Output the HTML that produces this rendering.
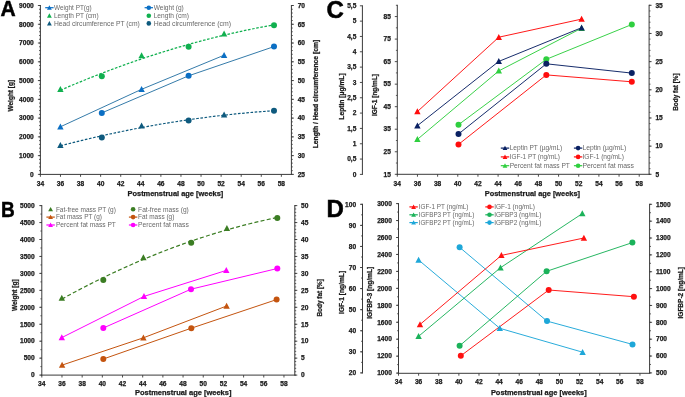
<!DOCTYPE html>
<html><head><meta charset="utf-8"><style>
html,body{margin:0;padding:0;background:#fff;width:685px;height:397px;overflow:hidden}
svg{display:block;will-change:transform}
text{font-family:"Liberation Sans", sans-serif}
</style></head><body>
<svg width="685" height="397" viewBox="0 0 685 397">
<rect width="685" height="397" fill="#fff"/>
<text transform="translate(8.08,8.49) scale(0.923,0.963)" x="0" y="8.16" text-anchor="middle" font-size="22.8" font-weight="bold" fill="#000" stroke="#000" stroke-width="0.5">A</text>
<line x1="39.9" y1="174.4" x2="291.9" y2="174.4" stroke="#3a3a3a" stroke-width="1"/>
<line x1="40.4" y1="174.4" x2="40.4" y2="176.8" stroke="#3a3a3a" stroke-width="0.9"/>
<text x="40.4" y="185.56" text-anchor="middle" font-size="6.3" font-weight="bold" fill="#1a1a1a" textLength="7.36" lengthAdjust="spacingAndGlyphs" stroke="#1a1a1a" stroke-width="0.25">34</text>
<line x1="60.48" y1="174.4" x2="60.48" y2="176.8" stroke="#3a3a3a" stroke-width="0.9"/>
<text x="60.48" y="185.56" text-anchor="middle" font-size="6.3" font-weight="bold" fill="#1a1a1a" textLength="7.36" lengthAdjust="spacingAndGlyphs" stroke="#1a1a1a" stroke-width="0.25">36</text>
<line x1="80.56" y1="174.4" x2="80.56" y2="176.8" stroke="#3a3a3a" stroke-width="0.9"/>
<text x="80.56" y="185.56" text-anchor="middle" font-size="6.3" font-weight="bold" fill="#1a1a1a" textLength="7.36" lengthAdjust="spacingAndGlyphs" stroke="#1a1a1a" stroke-width="0.25">38</text>
<line x1="100.64" y1="174.4" x2="100.64" y2="176.8" stroke="#3a3a3a" stroke-width="0.9"/>
<text x="100.64" y="185.56" text-anchor="middle" font-size="6.3" font-weight="bold" fill="#1a1a1a" textLength="7.36" lengthAdjust="spacingAndGlyphs" stroke="#1a1a1a" stroke-width="0.25">40</text>
<line x1="120.72" y1="174.4" x2="120.72" y2="176.8" stroke="#3a3a3a" stroke-width="0.9"/>
<text x="120.72" y="185.56" text-anchor="middle" font-size="6.3" font-weight="bold" fill="#1a1a1a" textLength="7.36" lengthAdjust="spacingAndGlyphs" stroke="#1a1a1a" stroke-width="0.25">42</text>
<line x1="140.8" y1="174.4" x2="140.8" y2="176.8" stroke="#3a3a3a" stroke-width="0.9"/>
<text x="140.8" y="185.56" text-anchor="middle" font-size="6.3" font-weight="bold" fill="#1a1a1a" textLength="7.36" lengthAdjust="spacingAndGlyphs" stroke="#1a1a1a" stroke-width="0.25">44</text>
<line x1="160.88" y1="174.4" x2="160.88" y2="176.8" stroke="#3a3a3a" stroke-width="0.9"/>
<text x="160.88" y="185.56" text-anchor="middle" font-size="6.3" font-weight="bold" fill="#1a1a1a" textLength="7.36" lengthAdjust="spacingAndGlyphs" stroke="#1a1a1a" stroke-width="0.25">46</text>
<line x1="180.96" y1="174.4" x2="180.96" y2="176.8" stroke="#3a3a3a" stroke-width="0.9"/>
<text x="180.96" y="185.56" text-anchor="middle" font-size="6.3" font-weight="bold" fill="#1a1a1a" textLength="7.36" lengthAdjust="spacingAndGlyphs" stroke="#1a1a1a" stroke-width="0.25">48</text>
<line x1="201.04" y1="174.4" x2="201.04" y2="176.8" stroke="#3a3a3a" stroke-width="0.9"/>
<text x="201.04" y="185.56" text-anchor="middle" font-size="6.3" font-weight="bold" fill="#1a1a1a" textLength="7.36" lengthAdjust="spacingAndGlyphs" stroke="#1a1a1a" stroke-width="0.25">50</text>
<line x1="221.12" y1="174.4" x2="221.12" y2="176.8" stroke="#3a3a3a" stroke-width="0.9"/>
<text x="221.12" y="185.56" text-anchor="middle" font-size="6.3" font-weight="bold" fill="#1a1a1a" textLength="7.36" lengthAdjust="spacingAndGlyphs" stroke="#1a1a1a" stroke-width="0.25">52</text>
<line x1="241.2" y1="174.4" x2="241.2" y2="176.8" stroke="#3a3a3a" stroke-width="0.9"/>
<text x="241.2" y="185.56" text-anchor="middle" font-size="6.3" font-weight="bold" fill="#1a1a1a" textLength="7.36" lengthAdjust="spacingAndGlyphs" stroke="#1a1a1a" stroke-width="0.25">54</text>
<line x1="261.28" y1="174.4" x2="261.28" y2="176.8" stroke="#3a3a3a" stroke-width="0.9"/>
<text x="261.28" y="185.56" text-anchor="middle" font-size="6.3" font-weight="bold" fill="#1a1a1a" textLength="7.36" lengthAdjust="spacingAndGlyphs" stroke="#1a1a1a" stroke-width="0.25">56</text>
<line x1="281.36" y1="174.4" x2="281.36" y2="176.8" stroke="#3a3a3a" stroke-width="0.9"/>
<text x="281.36" y="185.56" text-anchor="middle" font-size="6.3" font-weight="bold" fill="#1a1a1a" textLength="7.36" lengthAdjust="spacingAndGlyphs" stroke="#1a1a1a" stroke-width="0.25">58</text>
<line x1="40.4" y1="5" x2="40.4" y2="174.9" stroke="#3a3a3a" stroke-width="1"/>
<line x1="40.4" y1="174.4" x2="39" y2="174.4" stroke="#3a3a3a" stroke-width="0.8"/>
<line x1="40.4" y1="170.65" x2="39" y2="170.65" stroke="#3a3a3a" stroke-width="0.8"/>
<line x1="40.4" y1="166.89" x2="39" y2="166.89" stroke="#3a3a3a" stroke-width="0.8"/>
<line x1="40.4" y1="163.14" x2="39" y2="163.14" stroke="#3a3a3a" stroke-width="0.8"/>
<line x1="40.4" y1="159.39" x2="39" y2="159.39" stroke="#3a3a3a" stroke-width="0.8"/>
<line x1="40.4" y1="155.63" x2="39" y2="155.63" stroke="#3a3a3a" stroke-width="0.8"/>
<line x1="40.4" y1="151.88" x2="39" y2="151.88" stroke="#3a3a3a" stroke-width="0.8"/>
<line x1="40.4" y1="148.13" x2="39" y2="148.13" stroke="#3a3a3a" stroke-width="0.8"/>
<line x1="40.4" y1="144.37" x2="39" y2="144.37" stroke="#3a3a3a" stroke-width="0.8"/>
<line x1="40.4" y1="140.62" x2="39" y2="140.62" stroke="#3a3a3a" stroke-width="0.8"/>
<line x1="40.4" y1="136.87" x2="39" y2="136.87" stroke="#3a3a3a" stroke-width="0.8"/>
<line x1="40.4" y1="133.11" x2="39" y2="133.11" stroke="#3a3a3a" stroke-width="0.8"/>
<line x1="40.4" y1="129.36" x2="39" y2="129.36" stroke="#3a3a3a" stroke-width="0.8"/>
<line x1="40.4" y1="125.61" x2="39" y2="125.61" stroke="#3a3a3a" stroke-width="0.8"/>
<line x1="40.4" y1="121.85" x2="39" y2="121.85" stroke="#3a3a3a" stroke-width="0.8"/>
<line x1="40.4" y1="118.1" x2="39" y2="118.1" stroke="#3a3a3a" stroke-width="0.8"/>
<line x1="40.4" y1="114.35" x2="39" y2="114.35" stroke="#3a3a3a" stroke-width="0.8"/>
<line x1="40.4" y1="110.59" x2="39" y2="110.59" stroke="#3a3a3a" stroke-width="0.8"/>
<line x1="40.4" y1="106.84" x2="39" y2="106.84" stroke="#3a3a3a" stroke-width="0.8"/>
<line x1="40.4" y1="103.09" x2="39" y2="103.09" stroke="#3a3a3a" stroke-width="0.8"/>
<line x1="40.4" y1="99.33" x2="39" y2="99.33" stroke="#3a3a3a" stroke-width="0.8"/>
<line x1="40.4" y1="95.58" x2="39" y2="95.58" stroke="#3a3a3a" stroke-width="0.8"/>
<line x1="40.4" y1="91.83" x2="39" y2="91.83" stroke="#3a3a3a" stroke-width="0.8"/>
<line x1="40.4" y1="88.07" x2="39" y2="88.07" stroke="#3a3a3a" stroke-width="0.8"/>
<line x1="40.4" y1="84.32" x2="39" y2="84.32" stroke="#3a3a3a" stroke-width="0.8"/>
<line x1="40.4" y1="80.57" x2="39" y2="80.57" stroke="#3a3a3a" stroke-width="0.8"/>
<line x1="40.4" y1="76.81" x2="39" y2="76.81" stroke="#3a3a3a" stroke-width="0.8"/>
<line x1="40.4" y1="73.06" x2="39" y2="73.06" stroke="#3a3a3a" stroke-width="0.8"/>
<line x1="40.4" y1="69.31" x2="39" y2="69.31" stroke="#3a3a3a" stroke-width="0.8"/>
<line x1="40.4" y1="65.55" x2="39" y2="65.55" stroke="#3a3a3a" stroke-width="0.8"/>
<line x1="40.4" y1="61.8" x2="39" y2="61.8" stroke="#3a3a3a" stroke-width="0.8"/>
<line x1="40.4" y1="58.05" x2="39" y2="58.05" stroke="#3a3a3a" stroke-width="0.8"/>
<line x1="40.4" y1="54.29" x2="39" y2="54.29" stroke="#3a3a3a" stroke-width="0.8"/>
<line x1="40.4" y1="50.54" x2="39" y2="50.54" stroke="#3a3a3a" stroke-width="0.8"/>
<line x1="40.4" y1="46.79" x2="39" y2="46.79" stroke="#3a3a3a" stroke-width="0.8"/>
<line x1="40.4" y1="43.03" x2="39" y2="43.03" stroke="#3a3a3a" stroke-width="0.8"/>
<line x1="40.4" y1="39.28" x2="39" y2="39.28" stroke="#3a3a3a" stroke-width="0.8"/>
<line x1="40.4" y1="35.53" x2="39" y2="35.53" stroke="#3a3a3a" stroke-width="0.8"/>
<line x1="40.4" y1="31.77" x2="39" y2="31.77" stroke="#3a3a3a" stroke-width="0.8"/>
<line x1="40.4" y1="28.02" x2="39" y2="28.02" stroke="#3a3a3a" stroke-width="0.8"/>
<line x1="40.4" y1="24.27" x2="39" y2="24.27" stroke="#3a3a3a" stroke-width="0.8"/>
<line x1="40.4" y1="20.51" x2="39" y2="20.51" stroke="#3a3a3a" stroke-width="0.8"/>
<line x1="40.4" y1="16.76" x2="39" y2="16.76" stroke="#3a3a3a" stroke-width="0.8"/>
<line x1="40.4" y1="13.01" x2="39" y2="13.01" stroke="#3a3a3a" stroke-width="0.8"/>
<line x1="40.4" y1="9.25" x2="39" y2="9.25" stroke="#3a3a3a" stroke-width="0.8"/>
<line x1="40.4" y1="5.5" x2="39" y2="5.5" stroke="#3a3a3a" stroke-width="0.8"/>
<line x1="40.4" y1="174.4" x2="37.9" y2="174.4" stroke="#3a3a3a" stroke-width="0.9"/>
<line x1="40.4" y1="155.63" x2="37.9" y2="155.63" stroke="#3a3a3a" stroke-width="0.9"/>
<line x1="40.4" y1="136.87" x2="37.9" y2="136.87" stroke="#3a3a3a" stroke-width="0.9"/>
<line x1="40.4" y1="118.1" x2="37.9" y2="118.1" stroke="#3a3a3a" stroke-width="0.9"/>
<line x1="40.4" y1="99.33" x2="37.9" y2="99.33" stroke="#3a3a3a" stroke-width="0.9"/>
<line x1="40.4" y1="80.57" x2="37.9" y2="80.57" stroke="#3a3a3a" stroke-width="0.9"/>
<line x1="40.4" y1="61.8" x2="37.9" y2="61.8" stroke="#3a3a3a" stroke-width="0.9"/>
<line x1="40.4" y1="43.03" x2="37.9" y2="43.03" stroke="#3a3a3a" stroke-width="0.9"/>
<line x1="40.4" y1="24.27" x2="37.9" y2="24.27" stroke="#3a3a3a" stroke-width="0.9"/>
<line x1="40.4" y1="5.5" x2="37.9" y2="5.5" stroke="#3a3a3a" stroke-width="0.9"/>
<text x="33.8" y="176.66" text-anchor="end" font-size="6.3" font-weight="bold" fill="#1a1a1a" textLength="3.68" lengthAdjust="spacingAndGlyphs" stroke="#1a1a1a" stroke-width="0.25">0</text>
<text x="33.8" y="157.89" text-anchor="end" font-size="6.3" font-weight="bold" fill="#1a1a1a" textLength="14.71" lengthAdjust="spacingAndGlyphs" stroke="#1a1a1a" stroke-width="0.25">1000</text>
<text x="33.8" y="139.12" text-anchor="end" font-size="6.3" font-weight="bold" fill="#1a1a1a" textLength="14.71" lengthAdjust="spacingAndGlyphs" stroke="#1a1a1a" stroke-width="0.25">2000</text>
<text x="33.8" y="120.36" text-anchor="end" font-size="6.3" font-weight="bold" fill="#1a1a1a" textLength="14.71" lengthAdjust="spacingAndGlyphs" stroke="#1a1a1a" stroke-width="0.25">3000</text>
<text x="33.8" y="101.59" text-anchor="end" font-size="6.3" font-weight="bold" fill="#1a1a1a" textLength="14.71" lengthAdjust="spacingAndGlyphs" stroke="#1a1a1a" stroke-width="0.25">4000</text>
<text x="33.8" y="82.82" text-anchor="end" font-size="6.3" font-weight="bold" fill="#1a1a1a" textLength="14.71" lengthAdjust="spacingAndGlyphs" stroke="#1a1a1a" stroke-width="0.25">5000</text>
<text x="33.8" y="64.06" text-anchor="end" font-size="6.3" font-weight="bold" fill="#1a1a1a" textLength="14.71" lengthAdjust="spacingAndGlyphs" stroke="#1a1a1a" stroke-width="0.25">6000</text>
<text x="33.8" y="45.29" text-anchor="end" font-size="6.3" font-weight="bold" fill="#1a1a1a" textLength="14.71" lengthAdjust="spacingAndGlyphs" stroke="#1a1a1a" stroke-width="0.25">7000</text>
<text x="33.8" y="26.52" text-anchor="end" font-size="6.3" font-weight="bold" fill="#1a1a1a" textLength="14.71" lengthAdjust="spacingAndGlyphs" stroke="#1a1a1a" stroke-width="0.25">8000</text>
<text x="33.8" y="7.76" text-anchor="end" font-size="6.3" font-weight="bold" fill="#1a1a1a" textLength="14.71" lengthAdjust="spacingAndGlyphs" stroke="#1a1a1a" stroke-width="0.25">9000</text>
<line x1="291.4" y1="5" x2="291.4" y2="174.9" stroke="#3a3a3a" stroke-width="1"/>
<line x1="291.4" y1="174.4" x2="292.8" y2="174.4" stroke="#3a3a3a" stroke-width="0.8"/>
<line x1="291.4" y1="170.65" x2="292.8" y2="170.65" stroke="#3a3a3a" stroke-width="0.8"/>
<line x1="291.4" y1="166.89" x2="292.8" y2="166.89" stroke="#3a3a3a" stroke-width="0.8"/>
<line x1="291.4" y1="163.14" x2="292.8" y2="163.14" stroke="#3a3a3a" stroke-width="0.8"/>
<line x1="291.4" y1="159.39" x2="292.8" y2="159.39" stroke="#3a3a3a" stroke-width="0.8"/>
<line x1="291.4" y1="155.63" x2="292.8" y2="155.63" stroke="#3a3a3a" stroke-width="0.8"/>
<line x1="291.4" y1="151.88" x2="292.8" y2="151.88" stroke="#3a3a3a" stroke-width="0.8"/>
<line x1="291.4" y1="148.13" x2="292.8" y2="148.13" stroke="#3a3a3a" stroke-width="0.8"/>
<line x1="291.4" y1="144.37" x2="292.8" y2="144.37" stroke="#3a3a3a" stroke-width="0.8"/>
<line x1="291.4" y1="140.62" x2="292.8" y2="140.62" stroke="#3a3a3a" stroke-width="0.8"/>
<line x1="291.4" y1="136.87" x2="292.8" y2="136.87" stroke="#3a3a3a" stroke-width="0.8"/>
<line x1="291.4" y1="133.11" x2="292.8" y2="133.11" stroke="#3a3a3a" stroke-width="0.8"/>
<line x1="291.4" y1="129.36" x2="292.8" y2="129.36" stroke="#3a3a3a" stroke-width="0.8"/>
<line x1="291.4" y1="125.61" x2="292.8" y2="125.61" stroke="#3a3a3a" stroke-width="0.8"/>
<line x1="291.4" y1="121.85" x2="292.8" y2="121.85" stroke="#3a3a3a" stroke-width="0.8"/>
<line x1="291.4" y1="118.1" x2="292.8" y2="118.1" stroke="#3a3a3a" stroke-width="0.8"/>
<line x1="291.4" y1="114.35" x2="292.8" y2="114.35" stroke="#3a3a3a" stroke-width="0.8"/>
<line x1="291.4" y1="110.59" x2="292.8" y2="110.59" stroke="#3a3a3a" stroke-width="0.8"/>
<line x1="291.4" y1="106.84" x2="292.8" y2="106.84" stroke="#3a3a3a" stroke-width="0.8"/>
<line x1="291.4" y1="103.09" x2="292.8" y2="103.09" stroke="#3a3a3a" stroke-width="0.8"/>
<line x1="291.4" y1="99.33" x2="292.8" y2="99.33" stroke="#3a3a3a" stroke-width="0.8"/>
<line x1="291.4" y1="95.58" x2="292.8" y2="95.58" stroke="#3a3a3a" stroke-width="0.8"/>
<line x1="291.4" y1="91.83" x2="292.8" y2="91.83" stroke="#3a3a3a" stroke-width="0.8"/>
<line x1="291.4" y1="88.07" x2="292.8" y2="88.07" stroke="#3a3a3a" stroke-width="0.8"/>
<line x1="291.4" y1="84.32" x2="292.8" y2="84.32" stroke="#3a3a3a" stroke-width="0.8"/>
<line x1="291.4" y1="80.57" x2="292.8" y2="80.57" stroke="#3a3a3a" stroke-width="0.8"/>
<line x1="291.4" y1="76.81" x2="292.8" y2="76.81" stroke="#3a3a3a" stroke-width="0.8"/>
<line x1="291.4" y1="73.06" x2="292.8" y2="73.06" stroke="#3a3a3a" stroke-width="0.8"/>
<line x1="291.4" y1="69.31" x2="292.8" y2="69.31" stroke="#3a3a3a" stroke-width="0.8"/>
<line x1="291.4" y1="65.55" x2="292.8" y2="65.55" stroke="#3a3a3a" stroke-width="0.8"/>
<line x1="291.4" y1="61.8" x2="292.8" y2="61.8" stroke="#3a3a3a" stroke-width="0.8"/>
<line x1="291.4" y1="58.05" x2="292.8" y2="58.05" stroke="#3a3a3a" stroke-width="0.8"/>
<line x1="291.4" y1="54.29" x2="292.8" y2="54.29" stroke="#3a3a3a" stroke-width="0.8"/>
<line x1="291.4" y1="50.54" x2="292.8" y2="50.54" stroke="#3a3a3a" stroke-width="0.8"/>
<line x1="291.4" y1="46.79" x2="292.8" y2="46.79" stroke="#3a3a3a" stroke-width="0.8"/>
<line x1="291.4" y1="43.03" x2="292.8" y2="43.03" stroke="#3a3a3a" stroke-width="0.8"/>
<line x1="291.4" y1="39.28" x2="292.8" y2="39.28" stroke="#3a3a3a" stroke-width="0.8"/>
<line x1="291.4" y1="35.53" x2="292.8" y2="35.53" stroke="#3a3a3a" stroke-width="0.8"/>
<line x1="291.4" y1="31.77" x2="292.8" y2="31.77" stroke="#3a3a3a" stroke-width="0.8"/>
<line x1="291.4" y1="28.02" x2="292.8" y2="28.02" stroke="#3a3a3a" stroke-width="0.8"/>
<line x1="291.4" y1="24.27" x2="292.8" y2="24.27" stroke="#3a3a3a" stroke-width="0.8"/>
<line x1="291.4" y1="20.51" x2="292.8" y2="20.51" stroke="#3a3a3a" stroke-width="0.8"/>
<line x1="291.4" y1="16.76" x2="292.8" y2="16.76" stroke="#3a3a3a" stroke-width="0.8"/>
<line x1="291.4" y1="13.01" x2="292.8" y2="13.01" stroke="#3a3a3a" stroke-width="0.8"/>
<line x1="291.4" y1="9.25" x2="292.8" y2="9.25" stroke="#3a3a3a" stroke-width="0.8"/>
<line x1="291.4" y1="5.5" x2="292.8" y2="5.5" stroke="#3a3a3a" stroke-width="0.8"/>
<line x1="291.4" y1="174.4" x2="293.9" y2="174.4" stroke="#3a3a3a" stroke-width="0.9"/>
<line x1="291.4" y1="155.63" x2="293.9" y2="155.63" stroke="#3a3a3a" stroke-width="0.9"/>
<line x1="291.4" y1="136.87" x2="293.9" y2="136.87" stroke="#3a3a3a" stroke-width="0.9"/>
<line x1="291.4" y1="118.1" x2="293.9" y2="118.1" stroke="#3a3a3a" stroke-width="0.9"/>
<line x1="291.4" y1="99.33" x2="293.9" y2="99.33" stroke="#3a3a3a" stroke-width="0.9"/>
<line x1="291.4" y1="80.57" x2="293.9" y2="80.57" stroke="#3a3a3a" stroke-width="0.9"/>
<line x1="291.4" y1="61.8" x2="293.9" y2="61.8" stroke="#3a3a3a" stroke-width="0.9"/>
<line x1="291.4" y1="43.03" x2="293.9" y2="43.03" stroke="#3a3a3a" stroke-width="0.9"/>
<line x1="291.4" y1="24.27" x2="293.9" y2="24.27" stroke="#3a3a3a" stroke-width="0.9"/>
<line x1="291.4" y1="5.5" x2="293.9" y2="5.5" stroke="#3a3a3a" stroke-width="0.9"/>
<text x="297.7" y="176.66" text-anchor="start" font-size="6.3" font-weight="bold" fill="#1a1a1a" textLength="7.36" lengthAdjust="spacingAndGlyphs" stroke="#1a1a1a" stroke-width="0.25">25</text>
<text x="297.7" y="157.89" text-anchor="start" font-size="6.3" font-weight="bold" fill="#1a1a1a" textLength="7.36" lengthAdjust="spacingAndGlyphs" stroke="#1a1a1a" stroke-width="0.25">30</text>
<text x="297.7" y="139.12" text-anchor="start" font-size="6.3" font-weight="bold" fill="#1a1a1a" textLength="7.36" lengthAdjust="spacingAndGlyphs" stroke="#1a1a1a" stroke-width="0.25">35</text>
<text x="297.7" y="120.36" text-anchor="start" font-size="6.3" font-weight="bold" fill="#1a1a1a" textLength="7.36" lengthAdjust="spacingAndGlyphs" stroke="#1a1a1a" stroke-width="0.25">40</text>
<text x="297.7" y="101.59" text-anchor="start" font-size="6.3" font-weight="bold" fill="#1a1a1a" textLength="7.36" lengthAdjust="spacingAndGlyphs" stroke="#1a1a1a" stroke-width="0.25">45</text>
<text x="297.7" y="82.82" text-anchor="start" font-size="6.3" font-weight="bold" fill="#1a1a1a" textLength="7.36" lengthAdjust="spacingAndGlyphs" stroke="#1a1a1a" stroke-width="0.25">50</text>
<text x="297.7" y="64.06" text-anchor="start" font-size="6.3" font-weight="bold" fill="#1a1a1a" textLength="7.36" lengthAdjust="spacingAndGlyphs" stroke="#1a1a1a" stroke-width="0.25">55</text>
<text x="297.7" y="45.29" text-anchor="start" font-size="6.3" font-weight="bold" fill="#1a1a1a" textLength="7.36" lengthAdjust="spacingAndGlyphs" stroke="#1a1a1a" stroke-width="0.25">60</text>
<text x="297.7" y="26.52" text-anchor="start" font-size="6.3" font-weight="bold" fill="#1a1a1a" textLength="7.36" lengthAdjust="spacingAndGlyphs" stroke="#1a1a1a" stroke-width="0.25">65</text>
<text x="297.7" y="7.76" text-anchor="start" font-size="6.3" font-weight="bold" fill="#1a1a1a" textLength="7.36" lengthAdjust="spacingAndGlyphs" stroke="#1a1a1a" stroke-width="0.25">70</text>
<text transform="translate(10.1,95.7) rotate(-90)" x="0" y="2.43" text-anchor="middle" font-size="6.8" font-weight="bold" fill="#1a1a1a" textLength="31.8" lengthAdjust="spacingAndGlyphs" stroke="#1a1a1a" stroke-width="0.25">Weight [g]</text>
<text transform="translate(315.4,94.05) rotate(-90)" x="0" y="2.33" text-anchor="middle" font-size="6.5" font-weight="bold" fill="#1a1a1a" textLength="108.5" lengthAdjust="spacingAndGlyphs" stroke="#1a1a1a" stroke-width="0.25">Length / Head circumference [cm]</text>
<text x="127.5" y="196.11" text-anchor="start" font-size="7.0" font-weight="bold" fill="#1a1a1a" textLength="95.8" lengthAdjust="spacingAndGlyphs" stroke="#1a1a1a" stroke-width="0.25">Postmenstrual age [weeks]</text>
<polyline points="60.4,126.8 141.6,89.3 224.1,55.2" fill="none" stroke="#2a74a4" stroke-width="0.95" stroke-linejoin="round"/>
<polyline points="101.8,112.9 188.6,75.8 274,46.6" fill="none" stroke="#2a74a4" stroke-width="0.95" stroke-linejoin="round"/>
<polyline points="60.4,90.25 65.88,87.88 71.35,85.56 76.83,83.26 82.31,81 87.78,78.78 93.26,76.6 98.74,74.45 104.22,72.34 109.69,70.26 115.17,68.22 120.65,66.22 126.12,64.25 131.6,62.32 137.08,60.43 142.55,58.57 148.03,56.74 153.51,54.96 158.98,53.21 164.46,51.5 169.94,49.82 175.42,48.18 180.89,46.57 186.37,45 191.85,43.47 197.32,41.98 202.8,40.52 208.28,39.09 213.75,37.71 219.23,36.35 224.71,35.04 230.18,33.76 235.66,32.52 241.14,31.31 246.62,30.14 252.09,29.01 257.57,27.91 263.05,26.85 268.52,25.83 274,24.84" fill="none" stroke="#10b04f" stroke-width="1.25" stroke-dasharray="2.6,1.6" stroke-linejoin="round"/>
<polyline points="60.4,145.82 65.88,144.4 71.35,143.01 76.83,141.64 82.31,140.31 87.78,139 93.26,137.72 98.74,136.46 104.22,135.23 109.69,134.03 115.17,132.86 120.65,131.71 126.12,130.59 131.6,129.5 137.08,128.44 142.55,127.4 148.03,126.39 153.51,125.41 158.98,124.45 164.46,123.52 169.94,122.62 175.42,121.75 180.89,120.9 186.37,120.08 191.85,119.29 197.32,118.53 202.8,117.79 208.28,117.08 213.75,116.4 219.23,115.74 224.71,115.12 230.18,114.51 235.66,113.94 241.14,113.39 246.62,112.88 252.09,112.38 257.57,111.92 263.05,111.48 268.52,111.07 274,110.69" fill="none" stroke="#0e5a7e" stroke-width="1.2" stroke-dasharray="2.6,1.6" stroke-linejoin="round"/>
<path d="M60.4 123.49 L63.6 129.51 L57.2 129.51Z" fill="#0b6fc4"/>
<path d="M141.6 85.99 L144.8 92.01 L138.4 92.01Z" fill="#0b6fc4"/>
<path d="M224.1 51.89 L227.3 57.91 L220.9 57.91Z" fill="#0b6fc4"/>
<circle cx="101.8" cy="112.9" r="3" fill="#0b6fc4"/>
<circle cx="188.6" cy="75.8" r="3" fill="#0b6fc4"/>
<circle cx="274" cy="46.6" r="3" fill="#0b6fc4"/>
<path d="M60.4 85.99 L63.6 92.01 L57.2 92.01Z" fill="#10b04f"/>
<path d="M141.6 52.29 L144.8 58.31 L138.4 58.31Z" fill="#10b04f"/>
<path d="M224.1 30.39 L227.3 36.41 L220.9 36.41Z" fill="#10b04f"/>
<circle cx="101.8" cy="76.2" r="3" fill="#10b04f"/>
<circle cx="188.6" cy="46.8" r="3" fill="#10b04f"/>
<circle cx="274" cy="25.2" r="3" fill="#10b04f"/>
<path d="M60.4 141.89 L63.6 147.91 L57.2 147.91Z" fill="#0e5a7e"/>
<path d="M141.6 122.49 L144.8 128.51 L138.4 128.51Z" fill="#0e5a7e"/>
<path d="M224.1 111.49 L227.3 117.51 L220.9 117.51Z" fill="#0e5a7e"/>
<circle cx="101.8" cy="137.6" r="3" fill="#0e5a7e"/>
<circle cx="188.6" cy="120.6" r="3" fill="#0e5a7e"/>
<circle cx="274" cy="110.8" r="3" fill="#0e5a7e"/>
<line x1="45.2" y1="7.7" x2="53.6" y2="7.7" stroke="#0b6fc4" stroke-width="1.2"/>
<path d="M49.4 5.28 L51.8 9.68 L47 9.68Z" fill="#0b6fc4"/>
<text x="54" y="10.03" text-anchor="start" font-size="6.5" font-weight="normal" fill="#686868" textLength="37.7" lengthAdjust="spacingAndGlyphs">Weight PT(g)</text>
<path d="M49.4 13.28 L51.8 17.68 L47 17.68Z" fill="#10b04f"/>
<text x="54" y="18.03" text-anchor="start" font-size="6.5" font-weight="normal" fill="#686868" textLength="44.7" lengthAdjust="spacingAndGlyphs">Length PT (cm)</text>
<path d="M49.4 20.98 L51.8 25.38 L47 25.38Z" fill="#0e5a7e"/>
<text x="54" y="25.73" text-anchor="start" font-size="6.5" font-weight="normal" fill="#686868" textLength="85.8" lengthAdjust="spacingAndGlyphs">Head circumference PT (cm)</text>
<line x1="144.6" y1="7.7" x2="153" y2="7.7" stroke="#0b6fc4" stroke-width="1.2"/>
<circle cx="148.8" cy="7.7" r="2.3" fill="#0b6fc4"/>
<text x="153.7" y="10.03" text-anchor="start" font-size="6.5" font-weight="normal" fill="#686868" textLength="30.1" lengthAdjust="spacingAndGlyphs">Weight (g)</text>
<circle cx="148.8" cy="15.7" r="2.3" fill="#10b04f"/>
<text x="153.7" y="18.03" text-anchor="start" font-size="6.5" font-weight="normal" fill="#686868" textLength="35.3" lengthAdjust="spacingAndGlyphs">Length (cm)</text>
<circle cx="148.8" cy="23.4" r="2.3" fill="#0e5a7e"/>
<text x="153.7" y="25.73" text-anchor="start" font-size="6.5" font-weight="normal" fill="#686868" textLength="77.3" lengthAdjust="spacingAndGlyphs">Head circumference (cm)</text>
<text transform="translate(7.85,209.14) scale(0.835,0.982)" x="0" y="8.16" text-anchor="middle" font-size="22.8" font-weight="bold" fill="#000" stroke="#000" stroke-width="0.5">B</text>
<line x1="41.3" y1="375.1" x2="295.3" y2="375.1" stroke="#3a3a3a" stroke-width="1"/>
<line x1="41.8" y1="375.1" x2="41.8" y2="377.5" stroke="#3a3a3a" stroke-width="0.9"/>
<text x="41.8" y="386.06" text-anchor="middle" font-size="6.3" font-weight="bold" fill="#1a1a1a" textLength="7.36" lengthAdjust="spacingAndGlyphs" stroke="#1a1a1a" stroke-width="0.25">34</text>
<line x1="61.98" y1="375.1" x2="61.98" y2="377.5" stroke="#3a3a3a" stroke-width="0.9"/>
<text x="61.98" y="386.06" text-anchor="middle" font-size="6.3" font-weight="bold" fill="#1a1a1a" textLength="7.36" lengthAdjust="spacingAndGlyphs" stroke="#1a1a1a" stroke-width="0.25">36</text>
<line x1="82.16" y1="375.1" x2="82.16" y2="377.5" stroke="#3a3a3a" stroke-width="0.9"/>
<text x="82.16" y="386.06" text-anchor="middle" font-size="6.3" font-weight="bold" fill="#1a1a1a" textLength="7.36" lengthAdjust="spacingAndGlyphs" stroke="#1a1a1a" stroke-width="0.25">38</text>
<line x1="102.34" y1="375.1" x2="102.34" y2="377.5" stroke="#3a3a3a" stroke-width="0.9"/>
<text x="102.34" y="386.06" text-anchor="middle" font-size="6.3" font-weight="bold" fill="#1a1a1a" textLength="7.36" lengthAdjust="spacingAndGlyphs" stroke="#1a1a1a" stroke-width="0.25">40</text>
<line x1="122.52" y1="375.1" x2="122.52" y2="377.5" stroke="#3a3a3a" stroke-width="0.9"/>
<text x="122.52" y="386.06" text-anchor="middle" font-size="6.3" font-weight="bold" fill="#1a1a1a" textLength="7.36" lengthAdjust="spacingAndGlyphs" stroke="#1a1a1a" stroke-width="0.25">42</text>
<line x1="142.7" y1="375.1" x2="142.7" y2="377.5" stroke="#3a3a3a" stroke-width="0.9"/>
<text x="142.7" y="386.06" text-anchor="middle" font-size="6.3" font-weight="bold" fill="#1a1a1a" textLength="7.36" lengthAdjust="spacingAndGlyphs" stroke="#1a1a1a" stroke-width="0.25">44</text>
<line x1="162.88" y1="375.1" x2="162.88" y2="377.5" stroke="#3a3a3a" stroke-width="0.9"/>
<text x="162.88" y="386.06" text-anchor="middle" font-size="6.3" font-weight="bold" fill="#1a1a1a" textLength="7.36" lengthAdjust="spacingAndGlyphs" stroke="#1a1a1a" stroke-width="0.25">46</text>
<line x1="183.06" y1="375.1" x2="183.06" y2="377.5" stroke="#3a3a3a" stroke-width="0.9"/>
<text x="183.06" y="386.06" text-anchor="middle" font-size="6.3" font-weight="bold" fill="#1a1a1a" textLength="7.36" lengthAdjust="spacingAndGlyphs" stroke="#1a1a1a" stroke-width="0.25">48</text>
<line x1="203.24" y1="375.1" x2="203.24" y2="377.5" stroke="#3a3a3a" stroke-width="0.9"/>
<text x="203.24" y="386.06" text-anchor="middle" font-size="6.3" font-weight="bold" fill="#1a1a1a" textLength="7.36" lengthAdjust="spacingAndGlyphs" stroke="#1a1a1a" stroke-width="0.25">50</text>
<line x1="223.42" y1="375.1" x2="223.42" y2="377.5" stroke="#3a3a3a" stroke-width="0.9"/>
<text x="223.42" y="386.06" text-anchor="middle" font-size="6.3" font-weight="bold" fill="#1a1a1a" textLength="7.36" lengthAdjust="spacingAndGlyphs" stroke="#1a1a1a" stroke-width="0.25">52</text>
<line x1="243.6" y1="375.1" x2="243.6" y2="377.5" stroke="#3a3a3a" stroke-width="0.9"/>
<text x="243.6" y="386.06" text-anchor="middle" font-size="6.3" font-weight="bold" fill="#1a1a1a" textLength="7.36" lengthAdjust="spacingAndGlyphs" stroke="#1a1a1a" stroke-width="0.25">54</text>
<line x1="263.78" y1="375.1" x2="263.78" y2="377.5" stroke="#3a3a3a" stroke-width="0.9"/>
<text x="263.78" y="386.06" text-anchor="middle" font-size="6.3" font-weight="bold" fill="#1a1a1a" textLength="7.36" lengthAdjust="spacingAndGlyphs" stroke="#1a1a1a" stroke-width="0.25">56</text>
<line x1="283.96" y1="375.1" x2="283.96" y2="377.5" stroke="#3a3a3a" stroke-width="0.9"/>
<text x="283.96" y="386.06" text-anchor="middle" font-size="6.3" font-weight="bold" fill="#1a1a1a" textLength="7.36" lengthAdjust="spacingAndGlyphs" stroke="#1a1a1a" stroke-width="0.25">58</text>
<line x1="41.8" y1="205.1" x2="41.8" y2="375.6" stroke="#3a3a3a" stroke-width="1"/>
<line x1="41.8" y1="375.1" x2="40.4" y2="375.1" stroke="#3a3a3a" stroke-width="0.8"/>
<line x1="41.8" y1="366.62" x2="40.4" y2="366.62" stroke="#3a3a3a" stroke-width="0.8"/>
<line x1="41.8" y1="358.15" x2="40.4" y2="358.15" stroke="#3a3a3a" stroke-width="0.8"/>
<line x1="41.8" y1="349.68" x2="40.4" y2="349.68" stroke="#3a3a3a" stroke-width="0.8"/>
<line x1="41.8" y1="341.2" x2="40.4" y2="341.2" stroke="#3a3a3a" stroke-width="0.8"/>
<line x1="41.8" y1="332.73" x2="40.4" y2="332.73" stroke="#3a3a3a" stroke-width="0.8"/>
<line x1="41.8" y1="324.25" x2="40.4" y2="324.25" stroke="#3a3a3a" stroke-width="0.8"/>
<line x1="41.8" y1="315.78" x2="40.4" y2="315.78" stroke="#3a3a3a" stroke-width="0.8"/>
<line x1="41.8" y1="307.3" x2="40.4" y2="307.3" stroke="#3a3a3a" stroke-width="0.8"/>
<line x1="41.8" y1="298.83" x2="40.4" y2="298.83" stroke="#3a3a3a" stroke-width="0.8"/>
<line x1="41.8" y1="290.35" x2="40.4" y2="290.35" stroke="#3a3a3a" stroke-width="0.8"/>
<line x1="41.8" y1="281.88" x2="40.4" y2="281.88" stroke="#3a3a3a" stroke-width="0.8"/>
<line x1="41.8" y1="273.4" x2="40.4" y2="273.4" stroke="#3a3a3a" stroke-width="0.8"/>
<line x1="41.8" y1="264.93" x2="40.4" y2="264.93" stroke="#3a3a3a" stroke-width="0.8"/>
<line x1="41.8" y1="256.45" x2="40.4" y2="256.45" stroke="#3a3a3a" stroke-width="0.8"/>
<line x1="41.8" y1="247.97" x2="40.4" y2="247.97" stroke="#3a3a3a" stroke-width="0.8"/>
<line x1="41.8" y1="239.5" x2="40.4" y2="239.5" stroke="#3a3a3a" stroke-width="0.8"/>
<line x1="41.8" y1="231.03" x2="40.4" y2="231.03" stroke="#3a3a3a" stroke-width="0.8"/>
<line x1="41.8" y1="222.55" x2="40.4" y2="222.55" stroke="#3a3a3a" stroke-width="0.8"/>
<line x1="41.8" y1="214.07" x2="40.4" y2="214.07" stroke="#3a3a3a" stroke-width="0.8"/>
<line x1="41.8" y1="205.6" x2="40.4" y2="205.6" stroke="#3a3a3a" stroke-width="0.8"/>
<line x1="41.8" y1="375.1" x2="39.3" y2="375.1" stroke="#3a3a3a" stroke-width="0.9"/>
<line x1="41.8" y1="358.15" x2="39.3" y2="358.15" stroke="#3a3a3a" stroke-width="0.9"/>
<line x1="41.8" y1="341.2" x2="39.3" y2="341.2" stroke="#3a3a3a" stroke-width="0.9"/>
<line x1="41.8" y1="324.25" x2="39.3" y2="324.25" stroke="#3a3a3a" stroke-width="0.9"/>
<line x1="41.8" y1="307.3" x2="39.3" y2="307.3" stroke="#3a3a3a" stroke-width="0.9"/>
<line x1="41.8" y1="290.35" x2="39.3" y2="290.35" stroke="#3a3a3a" stroke-width="0.9"/>
<line x1="41.8" y1="273.4" x2="39.3" y2="273.4" stroke="#3a3a3a" stroke-width="0.9"/>
<line x1="41.8" y1="256.45" x2="39.3" y2="256.45" stroke="#3a3a3a" stroke-width="0.9"/>
<line x1="41.8" y1="239.5" x2="39.3" y2="239.5" stroke="#3a3a3a" stroke-width="0.9"/>
<line x1="41.8" y1="222.55" x2="39.3" y2="222.55" stroke="#3a3a3a" stroke-width="0.9"/>
<line x1="41.8" y1="205.6" x2="39.3" y2="205.6" stroke="#3a3a3a" stroke-width="0.9"/>
<text x="34.7" y="377.36" text-anchor="end" font-size="6.3" font-weight="bold" fill="#1a1a1a" textLength="3.68" lengthAdjust="spacingAndGlyphs" stroke="#1a1a1a" stroke-width="0.25">0</text>
<text x="34.7" y="360.41" text-anchor="end" font-size="6.3" font-weight="bold" fill="#1a1a1a" textLength="11.04" lengthAdjust="spacingAndGlyphs" stroke="#1a1a1a" stroke-width="0.25">500</text>
<text x="34.7" y="343.46" text-anchor="end" font-size="6.3" font-weight="bold" fill="#1a1a1a" textLength="14.71" lengthAdjust="spacingAndGlyphs" stroke="#1a1a1a" stroke-width="0.25">1000</text>
<text x="34.7" y="326.51" text-anchor="end" font-size="6.3" font-weight="bold" fill="#1a1a1a" textLength="14.71" lengthAdjust="spacingAndGlyphs" stroke="#1a1a1a" stroke-width="0.25">1500</text>
<text x="34.7" y="309.56" text-anchor="end" font-size="6.3" font-weight="bold" fill="#1a1a1a" textLength="14.71" lengthAdjust="spacingAndGlyphs" stroke="#1a1a1a" stroke-width="0.25">2000</text>
<text x="34.7" y="292.61" text-anchor="end" font-size="6.3" font-weight="bold" fill="#1a1a1a" textLength="14.71" lengthAdjust="spacingAndGlyphs" stroke="#1a1a1a" stroke-width="0.25">2500</text>
<text x="34.7" y="275.66" text-anchor="end" font-size="6.3" font-weight="bold" fill="#1a1a1a" textLength="14.71" lengthAdjust="spacingAndGlyphs" stroke="#1a1a1a" stroke-width="0.25">3000</text>
<text x="34.7" y="258.71" text-anchor="end" font-size="6.3" font-weight="bold" fill="#1a1a1a" textLength="14.71" lengthAdjust="spacingAndGlyphs" stroke="#1a1a1a" stroke-width="0.25">3500</text>
<text x="34.7" y="241.76" text-anchor="end" font-size="6.3" font-weight="bold" fill="#1a1a1a" textLength="14.71" lengthAdjust="spacingAndGlyphs" stroke="#1a1a1a" stroke-width="0.25">4000</text>
<text x="34.7" y="224.81" text-anchor="end" font-size="6.3" font-weight="bold" fill="#1a1a1a" textLength="14.71" lengthAdjust="spacingAndGlyphs" stroke="#1a1a1a" stroke-width="0.25">4500</text>
<text x="34.7" y="207.86" text-anchor="end" font-size="6.3" font-weight="bold" fill="#1a1a1a" textLength="14.71" lengthAdjust="spacingAndGlyphs" stroke="#1a1a1a" stroke-width="0.25">5000</text>
<line x1="294.8" y1="205.1" x2="294.8" y2="375.6" stroke="#3a3a3a" stroke-width="1"/>
<line x1="294.8" y1="375.1" x2="296.2" y2="375.1" stroke="#3a3a3a" stroke-width="0.8"/>
<line x1="294.8" y1="371.71" x2="296.2" y2="371.71" stroke="#3a3a3a" stroke-width="0.8"/>
<line x1="294.8" y1="368.32" x2="296.2" y2="368.32" stroke="#3a3a3a" stroke-width="0.8"/>
<line x1="294.8" y1="364.93" x2="296.2" y2="364.93" stroke="#3a3a3a" stroke-width="0.8"/>
<line x1="294.8" y1="361.54" x2="296.2" y2="361.54" stroke="#3a3a3a" stroke-width="0.8"/>
<line x1="294.8" y1="358.15" x2="296.2" y2="358.15" stroke="#3a3a3a" stroke-width="0.8"/>
<line x1="294.8" y1="354.76" x2="296.2" y2="354.76" stroke="#3a3a3a" stroke-width="0.8"/>
<line x1="294.8" y1="351.37" x2="296.2" y2="351.37" stroke="#3a3a3a" stroke-width="0.8"/>
<line x1="294.8" y1="347.98" x2="296.2" y2="347.98" stroke="#3a3a3a" stroke-width="0.8"/>
<line x1="294.8" y1="344.59" x2="296.2" y2="344.59" stroke="#3a3a3a" stroke-width="0.8"/>
<line x1="294.8" y1="341.2" x2="296.2" y2="341.2" stroke="#3a3a3a" stroke-width="0.8"/>
<line x1="294.8" y1="337.81" x2="296.2" y2="337.81" stroke="#3a3a3a" stroke-width="0.8"/>
<line x1="294.8" y1="334.42" x2="296.2" y2="334.42" stroke="#3a3a3a" stroke-width="0.8"/>
<line x1="294.8" y1="331.03" x2="296.2" y2="331.03" stroke="#3a3a3a" stroke-width="0.8"/>
<line x1="294.8" y1="327.64" x2="296.2" y2="327.64" stroke="#3a3a3a" stroke-width="0.8"/>
<line x1="294.8" y1="324.25" x2="296.2" y2="324.25" stroke="#3a3a3a" stroke-width="0.8"/>
<line x1="294.8" y1="320.86" x2="296.2" y2="320.86" stroke="#3a3a3a" stroke-width="0.8"/>
<line x1="294.8" y1="317.47" x2="296.2" y2="317.47" stroke="#3a3a3a" stroke-width="0.8"/>
<line x1="294.8" y1="314.08" x2="296.2" y2="314.08" stroke="#3a3a3a" stroke-width="0.8"/>
<line x1="294.8" y1="310.69" x2="296.2" y2="310.69" stroke="#3a3a3a" stroke-width="0.8"/>
<line x1="294.8" y1="307.3" x2="296.2" y2="307.3" stroke="#3a3a3a" stroke-width="0.8"/>
<line x1="294.8" y1="303.91" x2="296.2" y2="303.91" stroke="#3a3a3a" stroke-width="0.8"/>
<line x1="294.8" y1="300.52" x2="296.2" y2="300.52" stroke="#3a3a3a" stroke-width="0.8"/>
<line x1="294.8" y1="297.13" x2="296.2" y2="297.13" stroke="#3a3a3a" stroke-width="0.8"/>
<line x1="294.8" y1="293.74" x2="296.2" y2="293.74" stroke="#3a3a3a" stroke-width="0.8"/>
<line x1="294.8" y1="290.35" x2="296.2" y2="290.35" stroke="#3a3a3a" stroke-width="0.8"/>
<line x1="294.8" y1="286.96" x2="296.2" y2="286.96" stroke="#3a3a3a" stroke-width="0.8"/>
<line x1="294.8" y1="283.57" x2="296.2" y2="283.57" stroke="#3a3a3a" stroke-width="0.8"/>
<line x1="294.8" y1="280.18" x2="296.2" y2="280.18" stroke="#3a3a3a" stroke-width="0.8"/>
<line x1="294.8" y1="276.79" x2="296.2" y2="276.79" stroke="#3a3a3a" stroke-width="0.8"/>
<line x1="294.8" y1="273.4" x2="296.2" y2="273.4" stroke="#3a3a3a" stroke-width="0.8"/>
<line x1="294.8" y1="270.01" x2="296.2" y2="270.01" stroke="#3a3a3a" stroke-width="0.8"/>
<line x1="294.8" y1="266.62" x2="296.2" y2="266.62" stroke="#3a3a3a" stroke-width="0.8"/>
<line x1="294.8" y1="263.23" x2="296.2" y2="263.23" stroke="#3a3a3a" stroke-width="0.8"/>
<line x1="294.8" y1="259.84" x2="296.2" y2="259.84" stroke="#3a3a3a" stroke-width="0.8"/>
<line x1="294.8" y1="256.45" x2="296.2" y2="256.45" stroke="#3a3a3a" stroke-width="0.8"/>
<line x1="294.8" y1="253.06" x2="296.2" y2="253.06" stroke="#3a3a3a" stroke-width="0.8"/>
<line x1="294.8" y1="249.67" x2="296.2" y2="249.67" stroke="#3a3a3a" stroke-width="0.8"/>
<line x1="294.8" y1="246.28" x2="296.2" y2="246.28" stroke="#3a3a3a" stroke-width="0.8"/>
<line x1="294.8" y1="242.89" x2="296.2" y2="242.89" stroke="#3a3a3a" stroke-width="0.8"/>
<line x1="294.8" y1="239.5" x2="296.2" y2="239.5" stroke="#3a3a3a" stroke-width="0.8"/>
<line x1="294.8" y1="236.11" x2="296.2" y2="236.11" stroke="#3a3a3a" stroke-width="0.8"/>
<line x1="294.8" y1="232.72" x2="296.2" y2="232.72" stroke="#3a3a3a" stroke-width="0.8"/>
<line x1="294.8" y1="229.33" x2="296.2" y2="229.33" stroke="#3a3a3a" stroke-width="0.8"/>
<line x1="294.8" y1="225.94" x2="296.2" y2="225.94" stroke="#3a3a3a" stroke-width="0.8"/>
<line x1="294.8" y1="222.55" x2="296.2" y2="222.55" stroke="#3a3a3a" stroke-width="0.8"/>
<line x1="294.8" y1="219.16" x2="296.2" y2="219.16" stroke="#3a3a3a" stroke-width="0.8"/>
<line x1="294.8" y1="215.77" x2="296.2" y2="215.77" stroke="#3a3a3a" stroke-width="0.8"/>
<line x1="294.8" y1="212.38" x2="296.2" y2="212.38" stroke="#3a3a3a" stroke-width="0.8"/>
<line x1="294.8" y1="208.99" x2="296.2" y2="208.99" stroke="#3a3a3a" stroke-width="0.8"/>
<line x1="294.8" y1="205.6" x2="296.2" y2="205.6" stroke="#3a3a3a" stroke-width="0.8"/>
<line x1="294.8" y1="375.1" x2="297.3" y2="375.1" stroke="#3a3a3a" stroke-width="0.9"/>
<line x1="294.8" y1="358.15" x2="297.3" y2="358.15" stroke="#3a3a3a" stroke-width="0.9"/>
<line x1="294.8" y1="341.2" x2="297.3" y2="341.2" stroke="#3a3a3a" stroke-width="0.9"/>
<line x1="294.8" y1="324.25" x2="297.3" y2="324.25" stroke="#3a3a3a" stroke-width="0.9"/>
<line x1="294.8" y1="307.3" x2="297.3" y2="307.3" stroke="#3a3a3a" stroke-width="0.9"/>
<line x1="294.8" y1="290.35" x2="297.3" y2="290.35" stroke="#3a3a3a" stroke-width="0.9"/>
<line x1="294.8" y1="273.4" x2="297.3" y2="273.4" stroke="#3a3a3a" stroke-width="0.9"/>
<line x1="294.8" y1="256.45" x2="297.3" y2="256.45" stroke="#3a3a3a" stroke-width="0.9"/>
<line x1="294.8" y1="239.5" x2="297.3" y2="239.5" stroke="#3a3a3a" stroke-width="0.9"/>
<line x1="294.8" y1="222.55" x2="297.3" y2="222.55" stroke="#3a3a3a" stroke-width="0.9"/>
<line x1="294.8" y1="205.6" x2="297.3" y2="205.6" stroke="#3a3a3a" stroke-width="0.9"/>
<text x="301.1" y="377.36" text-anchor="start" font-size="6.3" font-weight="bold" fill="#1a1a1a" textLength="3.68" lengthAdjust="spacingAndGlyphs" stroke="#1a1a1a" stroke-width="0.25">0</text>
<text x="301.1" y="360.41" text-anchor="start" font-size="6.3" font-weight="bold" fill="#1a1a1a" textLength="3.68" lengthAdjust="spacingAndGlyphs" stroke="#1a1a1a" stroke-width="0.25">5</text>
<text x="301.1" y="343.46" text-anchor="start" font-size="6.3" font-weight="bold" fill="#1a1a1a" textLength="7.36" lengthAdjust="spacingAndGlyphs" stroke="#1a1a1a" stroke-width="0.25">10</text>
<text x="301.1" y="326.51" text-anchor="start" font-size="6.3" font-weight="bold" fill="#1a1a1a" textLength="7.36" lengthAdjust="spacingAndGlyphs" stroke="#1a1a1a" stroke-width="0.25">15</text>
<text x="301.1" y="309.56" text-anchor="start" font-size="6.3" font-weight="bold" fill="#1a1a1a" textLength="7.36" lengthAdjust="spacingAndGlyphs" stroke="#1a1a1a" stroke-width="0.25">20</text>
<text x="301.1" y="292.61" text-anchor="start" font-size="6.3" font-weight="bold" fill="#1a1a1a" textLength="7.36" lengthAdjust="spacingAndGlyphs" stroke="#1a1a1a" stroke-width="0.25">25</text>
<text x="301.1" y="275.66" text-anchor="start" font-size="6.3" font-weight="bold" fill="#1a1a1a" textLength="7.36" lengthAdjust="spacingAndGlyphs" stroke="#1a1a1a" stroke-width="0.25">30</text>
<text x="301.1" y="258.71" text-anchor="start" font-size="6.3" font-weight="bold" fill="#1a1a1a" textLength="7.36" lengthAdjust="spacingAndGlyphs" stroke="#1a1a1a" stroke-width="0.25">35</text>
<text x="301.1" y="241.76" text-anchor="start" font-size="6.3" font-weight="bold" fill="#1a1a1a" textLength="7.36" lengthAdjust="spacingAndGlyphs" stroke="#1a1a1a" stroke-width="0.25">40</text>
<text x="301.1" y="224.81" text-anchor="start" font-size="6.3" font-weight="bold" fill="#1a1a1a" textLength="7.36" lengthAdjust="spacingAndGlyphs" stroke="#1a1a1a" stroke-width="0.25">45</text>
<text x="301.1" y="207.86" text-anchor="start" font-size="6.3" font-weight="bold" fill="#1a1a1a" textLength="7.36" lengthAdjust="spacingAndGlyphs" stroke="#1a1a1a" stroke-width="0.25">50</text>
<text transform="translate(14.6,295.2) rotate(-90)" x="0" y="2.43" text-anchor="middle" font-size="6.8" font-weight="bold" fill="#1a1a1a" textLength="31.8" lengthAdjust="spacingAndGlyphs" stroke="#1a1a1a" stroke-width="0.25">Weight [g]</text>
<text transform="translate(319.6,297.85) rotate(-90)" x="0" y="2.43" text-anchor="middle" font-size="6.8" font-weight="bold" fill="#1a1a1a" textLength="37.5" lengthAdjust="spacingAndGlyphs" stroke="#1a1a1a" stroke-width="0.25">Body fat [%]</text>
<text x="135" y="394.91" text-anchor="start" font-size="7.0" font-weight="bold" fill="#1a1a1a" textLength="96.4" lengthAdjust="spacingAndGlyphs" stroke="#1a1a1a" stroke-width="0.25">Postmenstrual age [weeks]</text>
<polyline points="61.8,299.1 67.33,296.07 72.85,293.1 78.38,290.17 83.9,287.29 89.43,284.46 94.95,281.68 100.48,278.95 106.01,276.27 111.53,273.64 117.06,271.05 122.58,268.52 128.11,266.03 133.63,263.6 139.16,261.21 144.68,258.87 150.21,256.58 155.74,254.34 161.26,252.15 166.79,250.01 172.31,247.92 177.84,245.88 183.36,243.88 188.89,241.94 194.42,240.04 199.94,238.19 205.47,236.39 210.99,234.65 216.52,232.95 222.04,231.3 227.57,229.69 233.09,228.14 238.62,226.64 244.15,225.18 249.67,223.78 255.2,222.42 260.72,221.12 266.25,219.86 271.77,218.65 277.3,217.49" fill="none" stroke="#3b7d23" stroke-width="1.2" stroke-dasharray="4,2.3" stroke-linejoin="round"/>
<polyline points="62.1,365.1 143.4,337.8 226.6,306" fill="none" stroke="#c4540f" stroke-width="1.0" stroke-linejoin="round"/>
<polyline points="103.3,359 191.3,328.2 276.6,299.6" fill="none" stroke="#c4540f" stroke-width="1.0" stroke-linejoin="round"/>
<polyline points="61.8,337.6 144,296.4 226.3,270.4" fill="none" stroke="#ff00ff" stroke-width="1.0" stroke-linejoin="round"/>
<polyline points="103.3,328 191,289.2 277.3,268.5" fill="none" stroke="#ff00ff" stroke-width="1.0" stroke-linejoin="round"/>
<path d="M61.8 294.79 L65 300.81 L58.6 300.81Z" fill="#3b7d23"/>
<path d="M143.4 254.19 L146.6 260.21 L140.2 260.21Z" fill="#3b7d23"/>
<path d="M226.9 224.89 L230.1 230.91 L223.7 230.91Z" fill="#3b7d23"/>
<circle cx="103.3" cy="280" r="3" fill="#3b7d23"/>
<circle cx="191.2" cy="242.7" r="3" fill="#3b7d23"/>
<circle cx="277.3" cy="218.1" r="3" fill="#3b7d23"/>
<path d="M62.1 361.79 L65.3 367.81 L58.9 367.81Z" fill="#c4540f"/>
<path d="M143.4 334.49 L146.6 340.51 L140.2 340.51Z" fill="#c4540f"/>
<path d="M226.6 302.69 L229.8 308.71 L223.4 308.71Z" fill="#c4540f"/>
<circle cx="103.3" cy="359" r="3" fill="#c4540f"/>
<circle cx="191.3" cy="328.2" r="3" fill="#c4540f"/>
<circle cx="276.6" cy="299.6" r="3" fill="#c4540f"/>
<path d="M61.8 334.29 L65 340.31 L58.6 340.31Z" fill="#ff00ff"/>
<path d="M144 293.09 L147.2 299.11 L140.8 299.11Z" fill="#ff00ff"/>
<path d="M226.3 267.09 L229.5 273.11 L223.1 273.11Z" fill="#ff00ff"/>
<circle cx="103.3" cy="328" r="3" fill="#ff00ff"/>
<circle cx="191" cy="289.2" r="3" fill="#ff00ff"/>
<circle cx="277.3" cy="268.5" r="3" fill="#ff00ff"/>
<path d="M50.6 206.88 L53 211.28 L48.2 211.28Z" fill="#3b7d23"/>
<text x="55.9" y="211.63" text-anchor="start" font-size="6.5" font-weight="normal" fill="#686868" textLength="60" lengthAdjust="spacingAndGlyphs">Fat-free mass PT (g)</text>
<line x1="46.4" y1="217.1" x2="54.8" y2="217.1" stroke="#c4540f" stroke-width="1.2"/>
<path d="M50.6 214.68 L53 219.08 L48.2 219.08Z" fill="#c4540f"/>
<text x="55.9" y="219.43" text-anchor="start" font-size="6.5" font-weight="normal" fill="#686868" textLength="46" lengthAdjust="spacingAndGlyphs">Fat mass PT (g)</text>
<line x1="46.4" y1="225" x2="54.8" y2="225" stroke="#ff00ff" stroke-width="1.2"/>
<path d="M50.6 222.58 L53 226.98 L48.2 226.98Z" fill="#ff00ff"/>
<text x="55.9" y="227.33" text-anchor="start" font-size="6.5" font-weight="normal" fill="#686868" textLength="60" lengthAdjust="spacingAndGlyphs">Percent fat mass PT</text>
<circle cx="133.1" cy="209.3" r="2.3" fill="#3b7d23"/>
<text x="138.1" y="211.63" text-anchor="start" font-size="6.5" font-weight="normal" fill="#686868" textLength="50.7" lengthAdjust="spacingAndGlyphs">Fat-free mass (g)</text>
<line x1="128.9" y1="217.1" x2="137.3" y2="217.1" stroke="#c4540f" stroke-width="1.2"/>
<circle cx="133.1" cy="217.1" r="2.3" fill="#c4540f"/>
<text x="138.1" y="219.43" text-anchor="start" font-size="6.5" font-weight="normal" fill="#686868" textLength="36.2" lengthAdjust="spacingAndGlyphs">Fat mass (g)</text>
<line x1="128.9" y1="225" x2="137.3" y2="225" stroke="#ff00ff" stroke-width="1.2"/>
<circle cx="133.1" cy="225" r="2.3" fill="#ff00ff"/>
<text x="138.1" y="227.33" text-anchor="start" font-size="6.5" font-weight="normal" fill="#686868" textLength="50.7" lengthAdjust="spacingAndGlyphs">Percent fat mass</text>
<text transform="translate(335.05,9.27) scale(1.054,1.024)" x="0" y="8.16" text-anchor="middle" font-size="22.8" font-weight="bold" fill="#000" stroke="#000" stroke-width="0.5">C</text>
<line x1="396.8" y1="174.3" x2="649.8" y2="174.3" stroke="#3a3a3a" stroke-width="1"/>
<line x1="397.3" y1="174.3" x2="397.3" y2="176.7" stroke="#3a3a3a" stroke-width="0.9"/>
<text x="397.3" y="185.66" text-anchor="middle" font-size="6.3" font-weight="bold" fill="#1a1a1a" textLength="7.36" lengthAdjust="spacingAndGlyphs" stroke="#1a1a1a" stroke-width="0.25">34</text>
<line x1="417.46" y1="174.3" x2="417.46" y2="176.7" stroke="#3a3a3a" stroke-width="0.9"/>
<text x="417.46" y="185.66" text-anchor="middle" font-size="6.3" font-weight="bold" fill="#1a1a1a" textLength="7.36" lengthAdjust="spacingAndGlyphs" stroke="#1a1a1a" stroke-width="0.25">36</text>
<line x1="437.62" y1="174.3" x2="437.62" y2="176.7" stroke="#3a3a3a" stroke-width="0.9"/>
<text x="437.62" y="185.66" text-anchor="middle" font-size="6.3" font-weight="bold" fill="#1a1a1a" textLength="7.36" lengthAdjust="spacingAndGlyphs" stroke="#1a1a1a" stroke-width="0.25">38</text>
<line x1="457.78" y1="174.3" x2="457.78" y2="176.7" stroke="#3a3a3a" stroke-width="0.9"/>
<text x="457.78" y="185.66" text-anchor="middle" font-size="6.3" font-weight="bold" fill="#1a1a1a" textLength="7.36" lengthAdjust="spacingAndGlyphs" stroke="#1a1a1a" stroke-width="0.25">40</text>
<line x1="477.94" y1="174.3" x2="477.94" y2="176.7" stroke="#3a3a3a" stroke-width="0.9"/>
<text x="477.94" y="185.66" text-anchor="middle" font-size="6.3" font-weight="bold" fill="#1a1a1a" textLength="7.36" lengthAdjust="spacingAndGlyphs" stroke="#1a1a1a" stroke-width="0.25">42</text>
<line x1="498.1" y1="174.3" x2="498.1" y2="176.7" stroke="#3a3a3a" stroke-width="0.9"/>
<text x="498.1" y="185.66" text-anchor="middle" font-size="6.3" font-weight="bold" fill="#1a1a1a" textLength="7.36" lengthAdjust="spacingAndGlyphs" stroke="#1a1a1a" stroke-width="0.25">44</text>
<line x1="518.26" y1="174.3" x2="518.26" y2="176.7" stroke="#3a3a3a" stroke-width="0.9"/>
<text x="518.26" y="185.66" text-anchor="middle" font-size="6.3" font-weight="bold" fill="#1a1a1a" textLength="7.36" lengthAdjust="spacingAndGlyphs" stroke="#1a1a1a" stroke-width="0.25">46</text>
<line x1="538.42" y1="174.3" x2="538.42" y2="176.7" stroke="#3a3a3a" stroke-width="0.9"/>
<text x="538.42" y="185.66" text-anchor="middle" font-size="6.3" font-weight="bold" fill="#1a1a1a" textLength="7.36" lengthAdjust="spacingAndGlyphs" stroke="#1a1a1a" stroke-width="0.25">48</text>
<line x1="558.58" y1="174.3" x2="558.58" y2="176.7" stroke="#3a3a3a" stroke-width="0.9"/>
<text x="558.58" y="185.66" text-anchor="middle" font-size="6.3" font-weight="bold" fill="#1a1a1a" textLength="7.36" lengthAdjust="spacingAndGlyphs" stroke="#1a1a1a" stroke-width="0.25">50</text>
<line x1="578.74" y1="174.3" x2="578.74" y2="176.7" stroke="#3a3a3a" stroke-width="0.9"/>
<text x="578.74" y="185.66" text-anchor="middle" font-size="6.3" font-weight="bold" fill="#1a1a1a" textLength="7.36" lengthAdjust="spacingAndGlyphs" stroke="#1a1a1a" stroke-width="0.25">52</text>
<line x1="598.9" y1="174.3" x2="598.9" y2="176.7" stroke="#3a3a3a" stroke-width="0.9"/>
<text x="598.9" y="185.66" text-anchor="middle" font-size="6.3" font-weight="bold" fill="#1a1a1a" textLength="7.36" lengthAdjust="spacingAndGlyphs" stroke="#1a1a1a" stroke-width="0.25">54</text>
<line x1="619.06" y1="174.3" x2="619.06" y2="176.7" stroke="#3a3a3a" stroke-width="0.9"/>
<text x="619.06" y="185.66" text-anchor="middle" font-size="6.3" font-weight="bold" fill="#1a1a1a" textLength="7.36" lengthAdjust="spacingAndGlyphs" stroke="#1a1a1a" stroke-width="0.25">56</text>
<line x1="639.22" y1="174.3" x2="639.22" y2="176.7" stroke="#3a3a3a" stroke-width="0.9"/>
<text x="639.22" y="185.66" text-anchor="middle" font-size="6.3" font-weight="bold" fill="#1a1a1a" textLength="7.36" lengthAdjust="spacingAndGlyphs" stroke="#1a1a1a" stroke-width="0.25">58</text>
<line x1="362.4" y1="5.3" x2="362.4" y2="174.9" stroke="#3a3a3a" stroke-width="1"/>
<line x1="362.4" y1="174.4" x2="359.9" y2="174.4" stroke="#3a3a3a" stroke-width="0.9"/>
<line x1="362.4" y1="159.07" x2="359.9" y2="159.07" stroke="#3a3a3a" stroke-width="0.9"/>
<line x1="362.4" y1="143.75" x2="359.9" y2="143.75" stroke="#3a3a3a" stroke-width="0.9"/>
<line x1="362.4" y1="128.42" x2="359.9" y2="128.42" stroke="#3a3a3a" stroke-width="0.9"/>
<line x1="362.4" y1="113.09" x2="359.9" y2="113.09" stroke="#3a3a3a" stroke-width="0.9"/>
<line x1="362.4" y1="97.76" x2="359.9" y2="97.76" stroke="#3a3a3a" stroke-width="0.9"/>
<line x1="362.4" y1="82.44" x2="359.9" y2="82.44" stroke="#3a3a3a" stroke-width="0.9"/>
<line x1="362.4" y1="67.11" x2="359.9" y2="67.11" stroke="#3a3a3a" stroke-width="0.9"/>
<line x1="362.4" y1="51.78" x2="359.9" y2="51.78" stroke="#3a3a3a" stroke-width="0.9"/>
<line x1="362.4" y1="36.45" x2="359.9" y2="36.45" stroke="#3a3a3a" stroke-width="0.9"/>
<line x1="362.4" y1="21.13" x2="359.9" y2="21.13" stroke="#3a3a3a" stroke-width="0.9"/>
<line x1="362.4" y1="5.8" x2="359.9" y2="5.8" stroke="#3a3a3a" stroke-width="0.9"/>
<text x="356.4" y="176.66" text-anchor="end" font-size="6.3" font-weight="bold" fill="#1a1a1a" textLength="3.68" lengthAdjust="spacingAndGlyphs" stroke="#1a1a1a" stroke-width="0.25">0</text>
<text x="356.4" y="161.33" text-anchor="end" font-size="6.3" font-weight="bold" fill="#1a1a1a" textLength="9.19" lengthAdjust="spacingAndGlyphs" stroke="#1a1a1a" stroke-width="0.25">0,5</text>
<text x="356.4" y="146" text-anchor="end" font-size="6.3" font-weight="bold" fill="#1a1a1a" textLength="3.68" lengthAdjust="spacingAndGlyphs" stroke="#1a1a1a" stroke-width="0.25">1</text>
<text x="356.4" y="130.67" text-anchor="end" font-size="6.3" font-weight="bold" fill="#1a1a1a" textLength="9.19" lengthAdjust="spacingAndGlyphs" stroke="#1a1a1a" stroke-width="0.25">1,5</text>
<text x="356.4" y="115.35" text-anchor="end" font-size="6.3" font-weight="bold" fill="#1a1a1a" textLength="3.68" lengthAdjust="spacingAndGlyphs" stroke="#1a1a1a" stroke-width="0.25">2</text>
<text x="356.4" y="100.02" text-anchor="end" font-size="6.3" font-weight="bold" fill="#1a1a1a" textLength="9.19" lengthAdjust="spacingAndGlyphs" stroke="#1a1a1a" stroke-width="0.25">2,5</text>
<text x="356.4" y="84.69" text-anchor="end" font-size="6.3" font-weight="bold" fill="#1a1a1a" textLength="3.68" lengthAdjust="spacingAndGlyphs" stroke="#1a1a1a" stroke-width="0.25">3</text>
<text x="356.4" y="69.36" text-anchor="end" font-size="6.3" font-weight="bold" fill="#1a1a1a" textLength="9.19" lengthAdjust="spacingAndGlyphs" stroke="#1a1a1a" stroke-width="0.25">3,5</text>
<text x="356.4" y="54.04" text-anchor="end" font-size="6.3" font-weight="bold" fill="#1a1a1a" textLength="3.68" lengthAdjust="spacingAndGlyphs" stroke="#1a1a1a" stroke-width="0.25">4</text>
<text x="356.4" y="38.71" text-anchor="end" font-size="6.3" font-weight="bold" fill="#1a1a1a" textLength="9.19" lengthAdjust="spacingAndGlyphs" stroke="#1a1a1a" stroke-width="0.25">4,5</text>
<text x="356.4" y="23.38" text-anchor="end" font-size="6.3" font-weight="bold" fill="#1a1a1a" textLength="3.68" lengthAdjust="spacingAndGlyphs" stroke="#1a1a1a" stroke-width="0.25">5</text>
<text x="356.4" y="8.06" text-anchor="end" font-size="6.3" font-weight="bold" fill="#1a1a1a" textLength="9.19" lengthAdjust="spacingAndGlyphs" stroke="#1a1a1a" stroke-width="0.25">5,5</text>
<line x1="397.3" y1="4.8" x2="397.3" y2="174.8" stroke="#3a3a3a" stroke-width="1"/>
<line x1="397.3" y1="174.3" x2="394.8" y2="174.3" stroke="#3a3a3a" stroke-width="0.9"/>
<line x1="397.3" y1="151.77" x2="394.8" y2="151.77" stroke="#3a3a3a" stroke-width="0.9"/>
<line x1="397.3" y1="129.23" x2="394.8" y2="129.23" stroke="#3a3a3a" stroke-width="0.9"/>
<line x1="397.3" y1="106.7" x2="394.8" y2="106.7" stroke="#3a3a3a" stroke-width="0.9"/>
<line x1="397.3" y1="84.17" x2="394.8" y2="84.17" stroke="#3a3a3a" stroke-width="0.9"/>
<line x1="397.3" y1="61.63" x2="394.8" y2="61.63" stroke="#3a3a3a" stroke-width="0.9"/>
<line x1="397.3" y1="39.1" x2="394.8" y2="39.1" stroke="#3a3a3a" stroke-width="0.9"/>
<line x1="397.3" y1="16.57" x2="394.8" y2="16.57" stroke="#3a3a3a" stroke-width="0.9"/>
<line x1="397.3" y1="-5.97" x2="394.8" y2="-5.97" stroke="#3a3a3a" stroke-width="0.9"/>
<text x="391" y="176.56" text-anchor="end" font-size="6.3" font-weight="bold" fill="#1a1a1a" textLength="7.36" lengthAdjust="spacingAndGlyphs" stroke="#1a1a1a" stroke-width="0.25">15</text>
<text x="391" y="154.02" text-anchor="end" font-size="6.3" font-weight="bold" fill="#1a1a1a" textLength="7.36" lengthAdjust="spacingAndGlyphs" stroke="#1a1a1a" stroke-width="0.25">25</text>
<text x="391" y="131.49" text-anchor="end" font-size="6.3" font-weight="bold" fill="#1a1a1a" textLength="7.36" lengthAdjust="spacingAndGlyphs" stroke="#1a1a1a" stroke-width="0.25">35</text>
<text x="391" y="108.96" text-anchor="end" font-size="6.3" font-weight="bold" fill="#1a1a1a" textLength="7.36" lengthAdjust="spacingAndGlyphs" stroke="#1a1a1a" stroke-width="0.25">45</text>
<text x="391" y="86.42" text-anchor="end" font-size="6.3" font-weight="bold" fill="#1a1a1a" textLength="7.36" lengthAdjust="spacingAndGlyphs" stroke="#1a1a1a" stroke-width="0.25">55</text>
<text x="391" y="63.89" text-anchor="end" font-size="6.3" font-weight="bold" fill="#1a1a1a" textLength="7.36" lengthAdjust="spacingAndGlyphs" stroke="#1a1a1a" stroke-width="0.25">65</text>
<text x="391" y="41.36" text-anchor="end" font-size="6.3" font-weight="bold" fill="#1a1a1a" textLength="7.36" lengthAdjust="spacingAndGlyphs" stroke="#1a1a1a" stroke-width="0.25">75</text>
<text x="391" y="18.82" text-anchor="end" font-size="6.3" font-weight="bold" fill="#1a1a1a" textLength="7.36" lengthAdjust="spacingAndGlyphs" stroke="#1a1a1a" stroke-width="0.25">85</text>
<line x1="397.3" y1="163.03" x2="395.9" y2="163.03" stroke="#3a3a3a" stroke-width="0.8"/>
<line x1="397.3" y1="140.5" x2="395.9" y2="140.5" stroke="#3a3a3a" stroke-width="0.8"/>
<line x1="397.3" y1="117.97" x2="395.9" y2="117.97" stroke="#3a3a3a" stroke-width="0.8"/>
<line x1="397.3" y1="95.43" x2="395.9" y2="95.43" stroke="#3a3a3a" stroke-width="0.8"/>
<line x1="397.3" y1="72.9" x2="395.9" y2="72.9" stroke="#3a3a3a" stroke-width="0.8"/>
<line x1="397.3" y1="50.37" x2="395.9" y2="50.37" stroke="#3a3a3a" stroke-width="0.8"/>
<line x1="397.3" y1="27.83" x2="395.9" y2="27.83" stroke="#3a3a3a" stroke-width="0.8"/>
<line x1="397.3" y1="5.3" x2="395.9" y2="5.3" stroke="#3a3a3a" stroke-width="0.8"/>
<line x1="649.1" y1="4.8" x2="649.1" y2="174.8" stroke="#3a3a3a" stroke-width="1"/>
<line x1="649.1" y1="174.3" x2="650.5" y2="174.3" stroke="#3a3a3a" stroke-width="0.8"/>
<line x1="649.1" y1="168.67" x2="650.5" y2="168.67" stroke="#3a3a3a" stroke-width="0.8"/>
<line x1="649.1" y1="163.03" x2="650.5" y2="163.03" stroke="#3a3a3a" stroke-width="0.8"/>
<line x1="649.1" y1="157.4" x2="650.5" y2="157.4" stroke="#3a3a3a" stroke-width="0.8"/>
<line x1="649.1" y1="151.77" x2="650.5" y2="151.77" stroke="#3a3a3a" stroke-width="0.8"/>
<line x1="649.1" y1="146.13" x2="650.5" y2="146.13" stroke="#3a3a3a" stroke-width="0.8"/>
<line x1="649.1" y1="140.5" x2="650.5" y2="140.5" stroke="#3a3a3a" stroke-width="0.8"/>
<line x1="649.1" y1="134.87" x2="650.5" y2="134.87" stroke="#3a3a3a" stroke-width="0.8"/>
<line x1="649.1" y1="129.23" x2="650.5" y2="129.23" stroke="#3a3a3a" stroke-width="0.8"/>
<line x1="649.1" y1="123.6" x2="650.5" y2="123.6" stroke="#3a3a3a" stroke-width="0.8"/>
<line x1="649.1" y1="117.97" x2="650.5" y2="117.97" stroke="#3a3a3a" stroke-width="0.8"/>
<line x1="649.1" y1="112.33" x2="650.5" y2="112.33" stroke="#3a3a3a" stroke-width="0.8"/>
<line x1="649.1" y1="106.7" x2="650.5" y2="106.7" stroke="#3a3a3a" stroke-width="0.8"/>
<line x1="649.1" y1="101.07" x2="650.5" y2="101.07" stroke="#3a3a3a" stroke-width="0.8"/>
<line x1="649.1" y1="95.43" x2="650.5" y2="95.43" stroke="#3a3a3a" stroke-width="0.8"/>
<line x1="649.1" y1="89.8" x2="650.5" y2="89.8" stroke="#3a3a3a" stroke-width="0.8"/>
<line x1="649.1" y1="84.17" x2="650.5" y2="84.17" stroke="#3a3a3a" stroke-width="0.8"/>
<line x1="649.1" y1="78.53" x2="650.5" y2="78.53" stroke="#3a3a3a" stroke-width="0.8"/>
<line x1="649.1" y1="72.9" x2="650.5" y2="72.9" stroke="#3a3a3a" stroke-width="0.8"/>
<line x1="649.1" y1="67.27" x2="650.5" y2="67.27" stroke="#3a3a3a" stroke-width="0.8"/>
<line x1="649.1" y1="61.63" x2="650.5" y2="61.63" stroke="#3a3a3a" stroke-width="0.8"/>
<line x1="649.1" y1="56" x2="650.5" y2="56" stroke="#3a3a3a" stroke-width="0.8"/>
<line x1="649.1" y1="50.37" x2="650.5" y2="50.37" stroke="#3a3a3a" stroke-width="0.8"/>
<line x1="649.1" y1="44.73" x2="650.5" y2="44.73" stroke="#3a3a3a" stroke-width="0.8"/>
<line x1="649.1" y1="39.1" x2="650.5" y2="39.1" stroke="#3a3a3a" stroke-width="0.8"/>
<line x1="649.1" y1="33.47" x2="650.5" y2="33.47" stroke="#3a3a3a" stroke-width="0.8"/>
<line x1="649.1" y1="27.83" x2="650.5" y2="27.83" stroke="#3a3a3a" stroke-width="0.8"/>
<line x1="649.1" y1="22.2" x2="650.5" y2="22.2" stroke="#3a3a3a" stroke-width="0.8"/>
<line x1="649.1" y1="16.57" x2="650.5" y2="16.57" stroke="#3a3a3a" stroke-width="0.8"/>
<line x1="649.1" y1="10.93" x2="650.5" y2="10.93" stroke="#3a3a3a" stroke-width="0.8"/>
<line x1="649.1" y1="5.3" x2="650.5" y2="5.3" stroke="#3a3a3a" stroke-width="0.8"/>
<line x1="649.1" y1="174.3" x2="651.6" y2="174.3" stroke="#3a3a3a" stroke-width="0.9"/>
<line x1="649.1" y1="146.13" x2="651.6" y2="146.13" stroke="#3a3a3a" stroke-width="0.9"/>
<line x1="649.1" y1="117.97" x2="651.6" y2="117.97" stroke="#3a3a3a" stroke-width="0.9"/>
<line x1="649.1" y1="89.8" x2="651.6" y2="89.8" stroke="#3a3a3a" stroke-width="0.9"/>
<line x1="649.1" y1="61.63" x2="651.6" y2="61.63" stroke="#3a3a3a" stroke-width="0.9"/>
<line x1="649.1" y1="33.47" x2="651.6" y2="33.47" stroke="#3a3a3a" stroke-width="0.9"/>
<line x1="649.1" y1="5.3" x2="651.6" y2="5.3" stroke="#3a3a3a" stroke-width="0.9"/>
<text x="655.4" y="176.56" text-anchor="start" font-size="6.3" font-weight="bold" fill="#1a1a1a" textLength="3.68" lengthAdjust="spacingAndGlyphs" stroke="#1a1a1a" stroke-width="0.25">5</text>
<text x="655.4" y="148.39" text-anchor="start" font-size="6.3" font-weight="bold" fill="#1a1a1a" textLength="7.36" lengthAdjust="spacingAndGlyphs" stroke="#1a1a1a" stroke-width="0.25">10</text>
<text x="655.4" y="120.22" text-anchor="start" font-size="6.3" font-weight="bold" fill="#1a1a1a" textLength="7.36" lengthAdjust="spacingAndGlyphs" stroke="#1a1a1a" stroke-width="0.25">15</text>
<text x="655.4" y="92.06" text-anchor="start" font-size="6.3" font-weight="bold" fill="#1a1a1a" textLength="7.36" lengthAdjust="spacingAndGlyphs" stroke="#1a1a1a" stroke-width="0.25">20</text>
<text x="655.4" y="63.89" text-anchor="start" font-size="6.3" font-weight="bold" fill="#1a1a1a" textLength="7.36" lengthAdjust="spacingAndGlyphs" stroke="#1a1a1a" stroke-width="0.25">25</text>
<text x="655.4" y="35.72" text-anchor="start" font-size="6.3" font-weight="bold" fill="#1a1a1a" textLength="7.36" lengthAdjust="spacingAndGlyphs" stroke="#1a1a1a" stroke-width="0.25">30</text>
<text x="655.4" y="7.56" text-anchor="start" font-size="6.3" font-weight="bold" fill="#1a1a1a" textLength="7.36" lengthAdjust="spacingAndGlyphs" stroke="#1a1a1a" stroke-width="0.25">35</text>
<text transform="translate(341.1,96.5) rotate(-90)" x="0" y="2.43" text-anchor="middle" font-size="6.8" font-weight="bold" fill="#1a1a1a" textLength="46.4" lengthAdjust="spacingAndGlyphs" stroke="#1a1a1a" stroke-width="0.25">Leptin [µg/mL]</text>
<text transform="translate(374.2,95.05) rotate(-90)" x="0" y="2.43" text-anchor="middle" font-size="6.8" font-weight="bold" fill="#1a1a1a" textLength="42.1" lengthAdjust="spacingAndGlyphs" stroke="#1a1a1a" stroke-width="0.25">IGF-1 [ng/mL]</text>
<text transform="translate(676,92.05) rotate(-90)" x="0" y="2.43" text-anchor="middle" font-size="6.8" font-weight="bold" fill="#1a1a1a" textLength="37.5" lengthAdjust="spacingAndGlyphs" stroke="#1a1a1a" stroke-width="0.25">Body fat [%]</text>
<text x="484.8" y="196.21" text-anchor="start" font-size="7.0" font-weight="bold" fill="#1a1a1a" textLength="95.2" lengthAdjust="spacingAndGlyphs" stroke="#1a1a1a" stroke-width="0.25">Postmenstrual age [weeks]</text>
<polyline points="417.4,111.6 498.8,37.2 581.6,19.1" fill="none" stroke="#ff0d0d" stroke-width="0.95" stroke-linejoin="round"/>
<polyline points="458.5,144.4 546.3,74.9 631.8,81.8" fill="none" stroke="#ff0d0d" stroke-width="0.95" stroke-linejoin="round"/>
<polyline points="417.4,139.4 498.8,70.9 581.6,28.2" fill="none" stroke="#2fcf3f" stroke-width="0.95" stroke-linejoin="round"/>
<polyline points="458.5,124.7 546.3,59.3 631.8,24.5" fill="none" stroke="#2fcf3f" stroke-width="0.95" stroke-linejoin="round"/>
<polyline points="417.4,125.7 498.8,61.4 581.6,27.7" fill="none" stroke="#0a2163" stroke-width="0.95" stroke-linejoin="round"/>
<polyline points="458.5,134 546.3,63.8 631.8,73.1" fill="none" stroke="#0a2163" stroke-width="0.95" stroke-linejoin="round"/>
<path d="M417.4 108.29 L420.6 114.31 L414.2 114.31Z" fill="#ff0d0d"/>
<path d="M498.8 33.89 L502 39.91 L495.6 39.91Z" fill="#ff0d0d"/>
<path d="M581.6 15.79 L584.8 21.81 L578.4 21.81Z" fill="#ff0d0d"/>
<circle cx="458.5" cy="144.4" r="3" fill="#ff0d0d"/>
<circle cx="546.3" cy="74.9" r="3" fill="#ff0d0d"/>
<circle cx="631.8" cy="81.8" r="3" fill="#ff0d0d"/>
<path d="M417.4 136.09 L420.6 142.11 L414.2 142.11Z" fill="#2fcf3f"/>
<path d="M498.8 67.59 L502 73.61 L495.6 73.61Z" fill="#2fcf3f"/>
<path d="M581.6 24.89 L584.8 30.91 L578.4 30.91Z" fill="#2fcf3f"/>
<circle cx="458.5" cy="124.7" r="3" fill="#2fcf3f"/>
<circle cx="546.3" cy="59.3" r="3" fill="#2fcf3f"/>
<circle cx="631.8" cy="24.5" r="3" fill="#2fcf3f"/>
<path d="M417.4 122.39 L420.6 128.41 L414.2 128.41Z" fill="#0a2163"/>
<path d="M498.8 58.09 L502 64.11 L495.6 64.11Z" fill="#0a2163"/>
<path d="M581.6 24.39 L584.8 30.41 L578.4 30.41Z" fill="#0a2163"/>
<circle cx="458.5" cy="134" r="3" fill="#0a2163"/>
<circle cx="546.3" cy="63.8" r="3" fill="#0a2163"/>
<circle cx="631.8" cy="73.1" r="3" fill="#0a2163"/>
<line x1="500.8" y1="148.1" x2="509.2" y2="148.1" stroke="#0a2163" stroke-width="1.2"/>
<path d="M505 145.68 L507.4 150.08 L502.6 150.08Z" fill="#0a2163"/>
<text x="509.7" y="150.43" text-anchor="start" font-size="6.5" font-weight="normal" fill="#686868" textLength="52.6" lengthAdjust="spacingAndGlyphs">Leptin PT (µg/mL)</text>
<line x1="500.8" y1="156.9" x2="509.2" y2="156.9" stroke="#ff0d0d" stroke-width="1.2"/>
<path d="M505 154.48 L507.4 158.88 L502.6 158.88Z" fill="#ff0d0d"/>
<text x="509.7" y="159.23" text-anchor="start" font-size="6.5" font-weight="normal" fill="#686868" textLength="50.3" lengthAdjust="spacingAndGlyphs">IGF-1 PT (ng/mL)</text>
<line x1="500.8" y1="165.7" x2="509.2" y2="165.7" stroke="#2fcf3f" stroke-width="1.2"/>
<path d="M505 163.28 L507.4 167.68 L502.6 167.68Z" fill="#2fcf3f"/>
<text x="509.7" y="168.03" text-anchor="start" font-size="6.5" font-weight="normal" fill="#686868" textLength="60.2" lengthAdjust="spacingAndGlyphs">Percent fat mass PT</text>
<line x1="573.9" y1="148.1" x2="582.3" y2="148.1" stroke="#0a2163" stroke-width="1.2"/>
<circle cx="578.1" cy="148.1" r="2.3" fill="#0a2163"/>
<text x="582.4" y="150.43" text-anchor="start" font-size="6.5" font-weight="normal" fill="#686868" textLength="43.8" lengthAdjust="spacingAndGlyphs">Leptin (µg/mL)</text>
<line x1="573.9" y1="156.9" x2="582.3" y2="156.9" stroke="#ff0d0d" stroke-width="1.2"/>
<circle cx="578.1" cy="156.9" r="2.3" fill="#ff0d0d"/>
<text x="582.4" y="159.23" text-anchor="start" font-size="6.5" font-weight="normal" fill="#686868" textLength="41.6" lengthAdjust="spacingAndGlyphs">IGF-1 (ng/mL)</text>
<line x1="573.9" y1="165.7" x2="582.3" y2="165.7" stroke="#2fcf3f" stroke-width="1.2"/>
<circle cx="578.1" cy="165.7" r="2.3" fill="#2fcf3f"/>
<text x="582.4" y="168.03" text-anchor="start" font-size="6.5" font-weight="normal" fill="#686868" textLength="51.6" lengthAdjust="spacingAndGlyphs">Percent fat mass</text>
<text transform="translate(335.22,208.67) scale(1.054,1.026)" x="0" y="8.16" text-anchor="middle" font-size="22.8" font-weight="bold" fill="#000" stroke="#000" stroke-width="0.5">D</text>
<line x1="398" y1="373.3" x2="650.1" y2="373.3" stroke="#3a3a3a" stroke-width="1"/>
<line x1="398.5" y1="373.3" x2="398.5" y2="375.7" stroke="#3a3a3a" stroke-width="0.9"/>
<text x="398.5" y="384.16" text-anchor="middle" font-size="6.3" font-weight="bold" fill="#1a1a1a" textLength="7.36" lengthAdjust="spacingAndGlyphs" stroke="#1a1a1a" stroke-width="0.25">34</text>
<line x1="418.62" y1="373.3" x2="418.62" y2="375.7" stroke="#3a3a3a" stroke-width="0.9"/>
<text x="418.62" y="384.16" text-anchor="middle" font-size="6.3" font-weight="bold" fill="#1a1a1a" textLength="7.36" lengthAdjust="spacingAndGlyphs" stroke="#1a1a1a" stroke-width="0.25">36</text>
<line x1="438.74" y1="373.3" x2="438.74" y2="375.7" stroke="#3a3a3a" stroke-width="0.9"/>
<text x="438.74" y="384.16" text-anchor="middle" font-size="6.3" font-weight="bold" fill="#1a1a1a" textLength="7.36" lengthAdjust="spacingAndGlyphs" stroke="#1a1a1a" stroke-width="0.25">38</text>
<line x1="458.86" y1="373.3" x2="458.86" y2="375.7" stroke="#3a3a3a" stroke-width="0.9"/>
<text x="458.86" y="384.16" text-anchor="middle" font-size="6.3" font-weight="bold" fill="#1a1a1a" textLength="7.36" lengthAdjust="spacingAndGlyphs" stroke="#1a1a1a" stroke-width="0.25">40</text>
<line x1="478.98" y1="373.3" x2="478.98" y2="375.7" stroke="#3a3a3a" stroke-width="0.9"/>
<text x="478.98" y="384.16" text-anchor="middle" font-size="6.3" font-weight="bold" fill="#1a1a1a" textLength="7.36" lengthAdjust="spacingAndGlyphs" stroke="#1a1a1a" stroke-width="0.25">42</text>
<line x1="499.1" y1="373.3" x2="499.1" y2="375.7" stroke="#3a3a3a" stroke-width="0.9"/>
<text x="499.1" y="384.16" text-anchor="middle" font-size="6.3" font-weight="bold" fill="#1a1a1a" textLength="7.36" lengthAdjust="spacingAndGlyphs" stroke="#1a1a1a" stroke-width="0.25">44</text>
<line x1="519.22" y1="373.3" x2="519.22" y2="375.7" stroke="#3a3a3a" stroke-width="0.9"/>
<text x="519.22" y="384.16" text-anchor="middle" font-size="6.3" font-weight="bold" fill="#1a1a1a" textLength="7.36" lengthAdjust="spacingAndGlyphs" stroke="#1a1a1a" stroke-width="0.25">46</text>
<line x1="539.34" y1="373.3" x2="539.34" y2="375.7" stroke="#3a3a3a" stroke-width="0.9"/>
<text x="539.34" y="384.16" text-anchor="middle" font-size="6.3" font-weight="bold" fill="#1a1a1a" textLength="7.36" lengthAdjust="spacingAndGlyphs" stroke="#1a1a1a" stroke-width="0.25">48</text>
<line x1="559.46" y1="373.3" x2="559.46" y2="375.7" stroke="#3a3a3a" stroke-width="0.9"/>
<text x="559.46" y="384.16" text-anchor="middle" font-size="6.3" font-weight="bold" fill="#1a1a1a" textLength="7.36" lengthAdjust="spacingAndGlyphs" stroke="#1a1a1a" stroke-width="0.25">50</text>
<line x1="579.58" y1="373.3" x2="579.58" y2="375.7" stroke="#3a3a3a" stroke-width="0.9"/>
<text x="579.58" y="384.16" text-anchor="middle" font-size="6.3" font-weight="bold" fill="#1a1a1a" textLength="7.36" lengthAdjust="spacingAndGlyphs" stroke="#1a1a1a" stroke-width="0.25">52</text>
<line x1="599.7" y1="373.3" x2="599.7" y2="375.7" stroke="#3a3a3a" stroke-width="0.9"/>
<text x="599.7" y="384.16" text-anchor="middle" font-size="6.3" font-weight="bold" fill="#1a1a1a" textLength="7.36" lengthAdjust="spacingAndGlyphs" stroke="#1a1a1a" stroke-width="0.25">54</text>
<line x1="619.82" y1="373.3" x2="619.82" y2="375.7" stroke="#3a3a3a" stroke-width="0.9"/>
<text x="619.82" y="384.16" text-anchor="middle" font-size="6.3" font-weight="bold" fill="#1a1a1a" textLength="7.36" lengthAdjust="spacingAndGlyphs" stroke="#1a1a1a" stroke-width="0.25">56</text>
<line x1="639.94" y1="373.3" x2="639.94" y2="375.7" stroke="#3a3a3a" stroke-width="0.9"/>
<text x="639.94" y="384.16" text-anchor="middle" font-size="6.3" font-weight="bold" fill="#1a1a1a" textLength="7.36" lengthAdjust="spacingAndGlyphs" stroke="#1a1a1a" stroke-width="0.25">58</text>
<line x1="362.5" y1="203.8" x2="362.5" y2="373.4" stroke="#3a3a3a" stroke-width="1"/>
<line x1="362.5" y1="372.9" x2="361.1" y2="372.9" stroke="#3a3a3a" stroke-width="0.8"/>
<line x1="362.5" y1="362.36" x2="361.1" y2="362.36" stroke="#3a3a3a" stroke-width="0.8"/>
<line x1="362.5" y1="351.82" x2="361.1" y2="351.82" stroke="#3a3a3a" stroke-width="0.8"/>
<line x1="362.5" y1="341.29" x2="361.1" y2="341.29" stroke="#3a3a3a" stroke-width="0.8"/>
<line x1="362.5" y1="330.75" x2="361.1" y2="330.75" stroke="#3a3a3a" stroke-width="0.8"/>
<line x1="362.5" y1="320.21" x2="361.1" y2="320.21" stroke="#3a3a3a" stroke-width="0.8"/>
<line x1="362.5" y1="309.68" x2="361.1" y2="309.68" stroke="#3a3a3a" stroke-width="0.8"/>
<line x1="362.5" y1="299.14" x2="361.1" y2="299.14" stroke="#3a3a3a" stroke-width="0.8"/>
<line x1="362.5" y1="288.6" x2="361.1" y2="288.6" stroke="#3a3a3a" stroke-width="0.8"/>
<line x1="362.5" y1="278.06" x2="361.1" y2="278.06" stroke="#3a3a3a" stroke-width="0.8"/>
<line x1="362.5" y1="267.52" x2="361.1" y2="267.52" stroke="#3a3a3a" stroke-width="0.8"/>
<line x1="362.5" y1="256.99" x2="361.1" y2="256.99" stroke="#3a3a3a" stroke-width="0.8"/>
<line x1="362.5" y1="246.45" x2="361.1" y2="246.45" stroke="#3a3a3a" stroke-width="0.8"/>
<line x1="362.5" y1="235.91" x2="361.1" y2="235.91" stroke="#3a3a3a" stroke-width="0.8"/>
<line x1="362.5" y1="225.38" x2="361.1" y2="225.38" stroke="#3a3a3a" stroke-width="0.8"/>
<line x1="362.5" y1="214.84" x2="361.1" y2="214.84" stroke="#3a3a3a" stroke-width="0.8"/>
<line x1="362.5" y1="204.3" x2="361.1" y2="204.3" stroke="#3a3a3a" stroke-width="0.8"/>
<line x1="362.5" y1="372.9" x2="360" y2="372.9" stroke="#3a3a3a" stroke-width="0.9"/>
<line x1="362.5" y1="351.82" x2="360" y2="351.82" stroke="#3a3a3a" stroke-width="0.9"/>
<line x1="362.5" y1="330.75" x2="360" y2="330.75" stroke="#3a3a3a" stroke-width="0.9"/>
<line x1="362.5" y1="309.68" x2="360" y2="309.68" stroke="#3a3a3a" stroke-width="0.9"/>
<line x1="362.5" y1="288.6" x2="360" y2="288.6" stroke="#3a3a3a" stroke-width="0.9"/>
<line x1="362.5" y1="267.52" x2="360" y2="267.52" stroke="#3a3a3a" stroke-width="0.9"/>
<line x1="362.5" y1="246.45" x2="360" y2="246.45" stroke="#3a3a3a" stroke-width="0.9"/>
<line x1="362.5" y1="225.38" x2="360" y2="225.38" stroke="#3a3a3a" stroke-width="0.9"/>
<line x1="362.5" y1="204.3" x2="360" y2="204.3" stroke="#3a3a3a" stroke-width="0.9"/>
<text x="356.1" y="375.16" text-anchor="end" font-size="6.3" font-weight="bold" fill="#1a1a1a" textLength="7.36" lengthAdjust="spacingAndGlyphs" stroke="#1a1a1a" stroke-width="0.25">20</text>
<text x="356.1" y="354.08" text-anchor="end" font-size="6.3" font-weight="bold" fill="#1a1a1a" textLength="7.36" lengthAdjust="spacingAndGlyphs" stroke="#1a1a1a" stroke-width="0.25">30</text>
<text x="356.1" y="333.01" text-anchor="end" font-size="6.3" font-weight="bold" fill="#1a1a1a" textLength="7.36" lengthAdjust="spacingAndGlyphs" stroke="#1a1a1a" stroke-width="0.25">40</text>
<text x="356.1" y="311.93" text-anchor="end" font-size="6.3" font-weight="bold" fill="#1a1a1a" textLength="7.36" lengthAdjust="spacingAndGlyphs" stroke="#1a1a1a" stroke-width="0.25">50</text>
<text x="356.1" y="290.86" text-anchor="end" font-size="6.3" font-weight="bold" fill="#1a1a1a" textLength="7.36" lengthAdjust="spacingAndGlyphs" stroke="#1a1a1a" stroke-width="0.25">60</text>
<text x="356.1" y="269.78" text-anchor="end" font-size="6.3" font-weight="bold" fill="#1a1a1a" textLength="7.36" lengthAdjust="spacingAndGlyphs" stroke="#1a1a1a" stroke-width="0.25">70</text>
<text x="356.1" y="248.71" text-anchor="end" font-size="6.3" font-weight="bold" fill="#1a1a1a" textLength="7.36" lengthAdjust="spacingAndGlyphs" stroke="#1a1a1a" stroke-width="0.25">80</text>
<text x="356.1" y="227.63" text-anchor="end" font-size="6.3" font-weight="bold" fill="#1a1a1a" textLength="7.36" lengthAdjust="spacingAndGlyphs" stroke="#1a1a1a" stroke-width="0.25">90</text>
<text x="356.1" y="206.56" text-anchor="end" font-size="6.3" font-weight="bold" fill="#1a1a1a" textLength="11.04" lengthAdjust="spacingAndGlyphs" stroke="#1a1a1a" stroke-width="0.25">100</text>
<line x1="398.5" y1="203.1" x2="398.5" y2="373.6" stroke="#3a3a3a" stroke-width="1"/>
<line x1="398.5" y1="373.1" x2="397.1" y2="373.1" stroke="#3a3a3a" stroke-width="0.8"/>
<line x1="398.5" y1="364.62" x2="397.1" y2="364.62" stroke="#3a3a3a" stroke-width="0.8"/>
<line x1="398.5" y1="356.15" x2="397.1" y2="356.15" stroke="#3a3a3a" stroke-width="0.8"/>
<line x1="398.5" y1="347.68" x2="397.1" y2="347.68" stroke="#3a3a3a" stroke-width="0.8"/>
<line x1="398.5" y1="339.2" x2="397.1" y2="339.2" stroke="#3a3a3a" stroke-width="0.8"/>
<line x1="398.5" y1="330.73" x2="397.1" y2="330.73" stroke="#3a3a3a" stroke-width="0.8"/>
<line x1="398.5" y1="322.25" x2="397.1" y2="322.25" stroke="#3a3a3a" stroke-width="0.8"/>
<line x1="398.5" y1="313.78" x2="397.1" y2="313.78" stroke="#3a3a3a" stroke-width="0.8"/>
<line x1="398.5" y1="305.3" x2="397.1" y2="305.3" stroke="#3a3a3a" stroke-width="0.8"/>
<line x1="398.5" y1="296.82" x2="397.1" y2="296.82" stroke="#3a3a3a" stroke-width="0.8"/>
<line x1="398.5" y1="288.35" x2="397.1" y2="288.35" stroke="#3a3a3a" stroke-width="0.8"/>
<line x1="398.5" y1="279.88" x2="397.1" y2="279.88" stroke="#3a3a3a" stroke-width="0.8"/>
<line x1="398.5" y1="271.4" x2="397.1" y2="271.4" stroke="#3a3a3a" stroke-width="0.8"/>
<line x1="398.5" y1="262.93" x2="397.1" y2="262.93" stroke="#3a3a3a" stroke-width="0.8"/>
<line x1="398.5" y1="254.45" x2="397.1" y2="254.45" stroke="#3a3a3a" stroke-width="0.8"/>
<line x1="398.5" y1="245.98" x2="397.1" y2="245.98" stroke="#3a3a3a" stroke-width="0.8"/>
<line x1="398.5" y1="237.5" x2="397.1" y2="237.5" stroke="#3a3a3a" stroke-width="0.8"/>
<line x1="398.5" y1="229.03" x2="397.1" y2="229.03" stroke="#3a3a3a" stroke-width="0.8"/>
<line x1="398.5" y1="220.55" x2="397.1" y2="220.55" stroke="#3a3a3a" stroke-width="0.8"/>
<line x1="398.5" y1="212.07" x2="397.1" y2="212.07" stroke="#3a3a3a" stroke-width="0.8"/>
<line x1="398.5" y1="203.6" x2="397.1" y2="203.6" stroke="#3a3a3a" stroke-width="0.8"/>
<line x1="398.5" y1="373.1" x2="396" y2="373.1" stroke="#3a3a3a" stroke-width="0.9"/>
<line x1="398.5" y1="356.15" x2="396" y2="356.15" stroke="#3a3a3a" stroke-width="0.9"/>
<line x1="398.5" y1="339.2" x2="396" y2="339.2" stroke="#3a3a3a" stroke-width="0.9"/>
<line x1="398.5" y1="322.25" x2="396" y2="322.25" stroke="#3a3a3a" stroke-width="0.9"/>
<line x1="398.5" y1="305.3" x2="396" y2="305.3" stroke="#3a3a3a" stroke-width="0.9"/>
<line x1="398.5" y1="288.35" x2="396" y2="288.35" stroke="#3a3a3a" stroke-width="0.9"/>
<line x1="398.5" y1="271.4" x2="396" y2="271.4" stroke="#3a3a3a" stroke-width="0.9"/>
<line x1="398.5" y1="254.45" x2="396" y2="254.45" stroke="#3a3a3a" stroke-width="0.9"/>
<line x1="398.5" y1="237.5" x2="396" y2="237.5" stroke="#3a3a3a" stroke-width="0.9"/>
<line x1="398.5" y1="220.55" x2="396" y2="220.55" stroke="#3a3a3a" stroke-width="0.9"/>
<line x1="398.5" y1="203.6" x2="396" y2="203.6" stroke="#3a3a3a" stroke-width="0.9"/>
<text x="391.9" y="375.36" text-anchor="end" font-size="6.3" font-weight="bold" fill="#1a1a1a" textLength="14.71" lengthAdjust="spacingAndGlyphs" stroke="#1a1a1a" stroke-width="0.25">1000</text>
<text x="391.9" y="358.41" text-anchor="end" font-size="6.3" font-weight="bold" fill="#1a1a1a" textLength="14.71" lengthAdjust="spacingAndGlyphs" stroke="#1a1a1a" stroke-width="0.25">1200</text>
<text x="391.9" y="341.46" text-anchor="end" font-size="6.3" font-weight="bold" fill="#1a1a1a" textLength="14.71" lengthAdjust="spacingAndGlyphs" stroke="#1a1a1a" stroke-width="0.25">1400</text>
<text x="391.9" y="324.51" text-anchor="end" font-size="6.3" font-weight="bold" fill="#1a1a1a" textLength="14.71" lengthAdjust="spacingAndGlyphs" stroke="#1a1a1a" stroke-width="0.25">1600</text>
<text x="391.9" y="307.56" text-anchor="end" font-size="6.3" font-weight="bold" fill="#1a1a1a" textLength="14.71" lengthAdjust="spacingAndGlyphs" stroke="#1a1a1a" stroke-width="0.25">1800</text>
<text x="391.9" y="290.61" text-anchor="end" font-size="6.3" font-weight="bold" fill="#1a1a1a" textLength="14.71" lengthAdjust="spacingAndGlyphs" stroke="#1a1a1a" stroke-width="0.25">2000</text>
<text x="391.9" y="273.66" text-anchor="end" font-size="6.3" font-weight="bold" fill="#1a1a1a" textLength="14.71" lengthAdjust="spacingAndGlyphs" stroke="#1a1a1a" stroke-width="0.25">2200</text>
<text x="391.9" y="256.71" text-anchor="end" font-size="6.3" font-weight="bold" fill="#1a1a1a" textLength="14.71" lengthAdjust="spacingAndGlyphs" stroke="#1a1a1a" stroke-width="0.25">2400</text>
<text x="391.9" y="239.76" text-anchor="end" font-size="6.3" font-weight="bold" fill="#1a1a1a" textLength="14.71" lengthAdjust="spacingAndGlyphs" stroke="#1a1a1a" stroke-width="0.25">2600</text>
<text x="391.9" y="222.81" text-anchor="end" font-size="6.3" font-weight="bold" fill="#1a1a1a" textLength="14.71" lengthAdjust="spacingAndGlyphs" stroke="#1a1a1a" stroke-width="0.25">2800</text>
<text x="391.9" y="205.86" text-anchor="end" font-size="6.3" font-weight="bold" fill="#1a1a1a" textLength="14.71" lengthAdjust="spacingAndGlyphs" stroke="#1a1a1a" stroke-width="0.25">3000</text>
<line x1="649.6" y1="203.8" x2="649.6" y2="373.4" stroke="#3a3a3a" stroke-width="1"/>
<line x1="649.6" y1="372.9" x2="651" y2="372.9" stroke="#3a3a3a" stroke-width="0.8"/>
<line x1="649.6" y1="364.47" x2="651" y2="364.47" stroke="#3a3a3a" stroke-width="0.8"/>
<line x1="649.6" y1="356.04" x2="651" y2="356.04" stroke="#3a3a3a" stroke-width="0.8"/>
<line x1="649.6" y1="347.61" x2="651" y2="347.61" stroke="#3a3a3a" stroke-width="0.8"/>
<line x1="649.6" y1="339.18" x2="651" y2="339.18" stroke="#3a3a3a" stroke-width="0.8"/>
<line x1="649.6" y1="330.75" x2="651" y2="330.75" stroke="#3a3a3a" stroke-width="0.8"/>
<line x1="649.6" y1="322.32" x2="651" y2="322.32" stroke="#3a3a3a" stroke-width="0.8"/>
<line x1="649.6" y1="313.89" x2="651" y2="313.89" stroke="#3a3a3a" stroke-width="0.8"/>
<line x1="649.6" y1="305.46" x2="651" y2="305.46" stroke="#3a3a3a" stroke-width="0.8"/>
<line x1="649.6" y1="297.03" x2="651" y2="297.03" stroke="#3a3a3a" stroke-width="0.8"/>
<line x1="649.6" y1="288.6" x2="651" y2="288.6" stroke="#3a3a3a" stroke-width="0.8"/>
<line x1="649.6" y1="280.17" x2="651" y2="280.17" stroke="#3a3a3a" stroke-width="0.8"/>
<line x1="649.6" y1="271.74" x2="651" y2="271.74" stroke="#3a3a3a" stroke-width="0.8"/>
<line x1="649.6" y1="263.31" x2="651" y2="263.31" stroke="#3a3a3a" stroke-width="0.8"/>
<line x1="649.6" y1="254.88" x2="651" y2="254.88" stroke="#3a3a3a" stroke-width="0.8"/>
<line x1="649.6" y1="246.45" x2="651" y2="246.45" stroke="#3a3a3a" stroke-width="0.8"/>
<line x1="649.6" y1="238.02" x2="651" y2="238.02" stroke="#3a3a3a" stroke-width="0.8"/>
<line x1="649.6" y1="229.59" x2="651" y2="229.59" stroke="#3a3a3a" stroke-width="0.8"/>
<line x1="649.6" y1="221.16" x2="651" y2="221.16" stroke="#3a3a3a" stroke-width="0.8"/>
<line x1="649.6" y1="212.73" x2="651" y2="212.73" stroke="#3a3a3a" stroke-width="0.8"/>
<line x1="649.6" y1="204.3" x2="651" y2="204.3" stroke="#3a3a3a" stroke-width="0.8"/>
<line x1="649.6" y1="372.9" x2="652.1" y2="372.9" stroke="#3a3a3a" stroke-width="0.9"/>
<line x1="649.6" y1="356.04" x2="652.1" y2="356.04" stroke="#3a3a3a" stroke-width="0.9"/>
<line x1="649.6" y1="339.18" x2="652.1" y2="339.18" stroke="#3a3a3a" stroke-width="0.9"/>
<line x1="649.6" y1="322.32" x2="652.1" y2="322.32" stroke="#3a3a3a" stroke-width="0.9"/>
<line x1="649.6" y1="305.46" x2="652.1" y2="305.46" stroke="#3a3a3a" stroke-width="0.9"/>
<line x1="649.6" y1="288.6" x2="652.1" y2="288.6" stroke="#3a3a3a" stroke-width="0.9"/>
<line x1="649.6" y1="271.74" x2="652.1" y2="271.74" stroke="#3a3a3a" stroke-width="0.9"/>
<line x1="649.6" y1="254.88" x2="652.1" y2="254.88" stroke="#3a3a3a" stroke-width="0.9"/>
<line x1="649.6" y1="238.02" x2="652.1" y2="238.02" stroke="#3a3a3a" stroke-width="0.9"/>
<line x1="649.6" y1="221.16" x2="652.1" y2="221.16" stroke="#3a3a3a" stroke-width="0.9"/>
<line x1="649.6" y1="204.3" x2="652.1" y2="204.3" stroke="#3a3a3a" stroke-width="0.9"/>
<text x="656" y="375.16" text-anchor="start" font-size="6.3" font-weight="bold" fill="#1a1a1a" textLength="11.04" lengthAdjust="spacingAndGlyphs" stroke="#1a1a1a" stroke-width="0.25">500</text>
<text x="656" y="358.3" text-anchor="start" font-size="6.3" font-weight="bold" fill="#1a1a1a" textLength="11.04" lengthAdjust="spacingAndGlyphs" stroke="#1a1a1a" stroke-width="0.25">600</text>
<text x="656" y="341.44" text-anchor="start" font-size="6.3" font-weight="bold" fill="#1a1a1a" textLength="11.04" lengthAdjust="spacingAndGlyphs" stroke="#1a1a1a" stroke-width="0.25">700</text>
<text x="656" y="324.58" text-anchor="start" font-size="6.3" font-weight="bold" fill="#1a1a1a" textLength="11.04" lengthAdjust="spacingAndGlyphs" stroke="#1a1a1a" stroke-width="0.25">800</text>
<text x="656" y="307.72" text-anchor="start" font-size="6.3" font-weight="bold" fill="#1a1a1a" textLength="11.04" lengthAdjust="spacingAndGlyphs" stroke="#1a1a1a" stroke-width="0.25">900</text>
<text x="656" y="290.86" text-anchor="start" font-size="6.3" font-weight="bold" fill="#1a1a1a" textLength="14.71" lengthAdjust="spacingAndGlyphs" stroke="#1a1a1a" stroke-width="0.25">1000</text>
<text x="656" y="274" text-anchor="start" font-size="6.3" font-weight="bold" fill="#1a1a1a" textLength="14.35" lengthAdjust="spacingAndGlyphs" stroke="#1a1a1a" stroke-width="0.25">1100</text>
<text x="656" y="257.14" text-anchor="start" font-size="6.3" font-weight="bold" fill="#1a1a1a" textLength="14.71" lengthAdjust="spacingAndGlyphs" stroke="#1a1a1a" stroke-width="0.25">1200</text>
<text x="656" y="240.28" text-anchor="start" font-size="6.3" font-weight="bold" fill="#1a1a1a" textLength="14.71" lengthAdjust="spacingAndGlyphs" stroke="#1a1a1a" stroke-width="0.25">1300</text>
<text x="656" y="223.42" text-anchor="start" font-size="6.3" font-weight="bold" fill="#1a1a1a" textLength="14.71" lengthAdjust="spacingAndGlyphs" stroke="#1a1a1a" stroke-width="0.25">1400</text>
<text x="656" y="206.56" text-anchor="start" font-size="6.3" font-weight="bold" fill="#1a1a1a" textLength="14.71" lengthAdjust="spacingAndGlyphs" stroke="#1a1a1a" stroke-width="0.25">1500</text>
<text transform="translate(342,292.4) rotate(-90)" x="0" y="2.43" text-anchor="middle" font-size="6.8" font-weight="bold" fill="#1a1a1a" textLength="43" lengthAdjust="spacingAndGlyphs" stroke="#1a1a1a" stroke-width="0.25">IGF-1 [ng/mL]</text>
<text transform="translate(369.1,292.8) rotate(-90)" x="0" y="2.43" text-anchor="middle" font-size="6.8" font-weight="bold" fill="#1a1a1a" textLength="52" lengthAdjust="spacingAndGlyphs" stroke="#1a1a1a" stroke-width="0.25">IGFBP-3 [ng/mL]</text>
<text transform="translate(680.8,292.8) rotate(-90)" x="0" y="2.43" text-anchor="middle" font-size="6.8" font-weight="bold" fill="#1a1a1a" textLength="51.4" lengthAdjust="spacingAndGlyphs" stroke="#1a1a1a" stroke-width="0.25">IGFBP-2 [ng/mL]</text>
<text x="490.9" y="394.51" text-anchor="start" font-size="7.0" font-weight="bold" fill="#1a1a1a" textLength="95.8" lengthAdjust="spacingAndGlyphs" stroke="#1a1a1a" stroke-width="0.25">Postmenstrual age [weeks]</text>
<polyline points="418.6,260 499.8,328.3 582.6,352.2" fill="none" stroke="#1ea7d8" stroke-width="0.95" stroke-linejoin="round"/>
<polyline points="459.6,247.3 547,321.1 632.5,344.4" fill="none" stroke="#1ea7d8" stroke-width="0.95" stroke-linejoin="round"/>
<polyline points="418.6,336.3 500.5,267.7 582.3,213.6" fill="none" stroke="#1bb25a" stroke-width="0.95" stroke-linejoin="round"/>
<polyline points="459.6,345.8 546.6,271.3 632.4,242.6" fill="none" stroke="#1bb25a" stroke-width="0.95" stroke-linejoin="round"/>
<polyline points="420,324.5 501.4,255.4 583.9,238" fill="none" stroke="#ff1010" stroke-width="0.95" stroke-linejoin="round"/>
<polyline points="460.8,355.8 548.7,290 633.9,296.7" fill="none" stroke="#ff1010" stroke-width="0.95" stroke-linejoin="round"/>
<path d="M420 321.19 L423.2 327.21 L416.8 327.21Z" fill="#ff1010"/>
<path d="M501.4 252.09 L504.6 258.11 L498.2 258.11Z" fill="#ff1010"/>
<path d="M583.9 234.69 L587.1 240.71 L580.7 240.71Z" fill="#ff1010"/>
<circle cx="460.8" cy="355.8" r="3" fill="#ff1010"/>
<circle cx="548.7" cy="290" r="3" fill="#ff1010"/>
<circle cx="633.9" cy="296.7" r="3" fill="#ff1010"/>
<path d="M418.6 332.99 L421.8 339.01 L415.4 339.01Z" fill="#1bb25a"/>
<path d="M500.5 264.39 L503.7 270.41 L497.3 270.41Z" fill="#1bb25a"/>
<path d="M582.3 210.29 L585.5 216.31 L579.1 216.31Z" fill="#1bb25a"/>
<circle cx="459.6" cy="345.8" r="3" fill="#1bb25a"/>
<circle cx="546.6" cy="271.3" r="3" fill="#1bb25a"/>
<circle cx="632.4" cy="242.6" r="3" fill="#1bb25a"/>
<path d="M418.6 256.69 L421.8 262.71 L415.4 262.71Z" fill="#1ea7d8"/>
<path d="M499.8 324.99 L503 331.01 L496.6 331.01Z" fill="#1ea7d8"/>
<path d="M582.6 348.89 L585.8 354.91 L579.4 354.91Z" fill="#1ea7d8"/>
<circle cx="459.6" cy="247.3" r="3" fill="#1ea7d8"/>
<circle cx="547" cy="321.1" r="3" fill="#1ea7d8"/>
<circle cx="632.5" cy="344.4" r="3" fill="#1ea7d8"/>
<line x1="409.4" y1="206.9" x2="417.8" y2="206.9" stroke="#ff1010" stroke-width="1.2"/>
<path d="M413.6 204.48 L416 208.88 L411.2 208.88Z" fill="#ff1010"/>
<text x="418.7" y="209.23" text-anchor="start" font-size="6.5" font-weight="normal" fill="#686868" textLength="49.8" lengthAdjust="spacingAndGlyphs">IGF-1 PT (ng/mL)</text>
<line x1="409.4" y1="214.8" x2="417.8" y2="214.8" stroke="#1bb25a" stroke-width="1.2"/>
<path d="M413.6 212.38 L416 216.78 L411.2 216.78Z" fill="#1bb25a"/>
<text x="418.7" y="217.13" text-anchor="start" font-size="6.5" font-weight="normal" fill="#686868" textLength="55.6" lengthAdjust="spacingAndGlyphs">IGFBP3 PT (ng/mL)</text>
<line x1="409.4" y1="222.6" x2="417.8" y2="222.6" stroke="#1ea7d8" stroke-width="1.2"/>
<path d="M413.6 220.18 L416 224.58 L411.2 224.58Z" fill="#1ea7d8"/>
<text x="418.7" y="224.93" text-anchor="start" font-size="6.5" font-weight="normal" fill="#686868" textLength="55.6" lengthAdjust="spacingAndGlyphs">IGFBP2 PT (ng/mL)</text>
<line x1="485.3" y1="206.9" x2="493.7" y2="206.9" stroke="#ff1010" stroke-width="1.2"/>
<circle cx="489.5" cy="206.9" r="2.3" fill="#ff1010"/>
<text x="494.2" y="209.23" text-anchor="start" font-size="6.5" font-weight="normal" fill="#686868" textLength="40.8" lengthAdjust="spacingAndGlyphs">IGF-1 (ng/mL)</text>
<line x1="485.3" y1="214.8" x2="493.7" y2="214.8" stroke="#1bb25a" stroke-width="1.2"/>
<circle cx="489.5" cy="214.8" r="2.3" fill="#1bb25a"/>
<text x="494.2" y="217.13" text-anchor="start" font-size="6.5" font-weight="normal" fill="#686868" textLength="47.2" lengthAdjust="spacingAndGlyphs">IGFBP3 (ng/mL)</text>
<line x1="485.3" y1="222.6" x2="493.7" y2="222.6" stroke="#1ea7d8" stroke-width="1.2"/>
<circle cx="489.5" cy="222.6" r="2.3" fill="#1ea7d8"/>
<text x="494.2" y="224.93" text-anchor="start" font-size="6.5" font-weight="normal" fill="#686868" textLength="47.2" lengthAdjust="spacingAndGlyphs">IGFBP2 (ng/mL)</text>
</svg>
</body></html>
